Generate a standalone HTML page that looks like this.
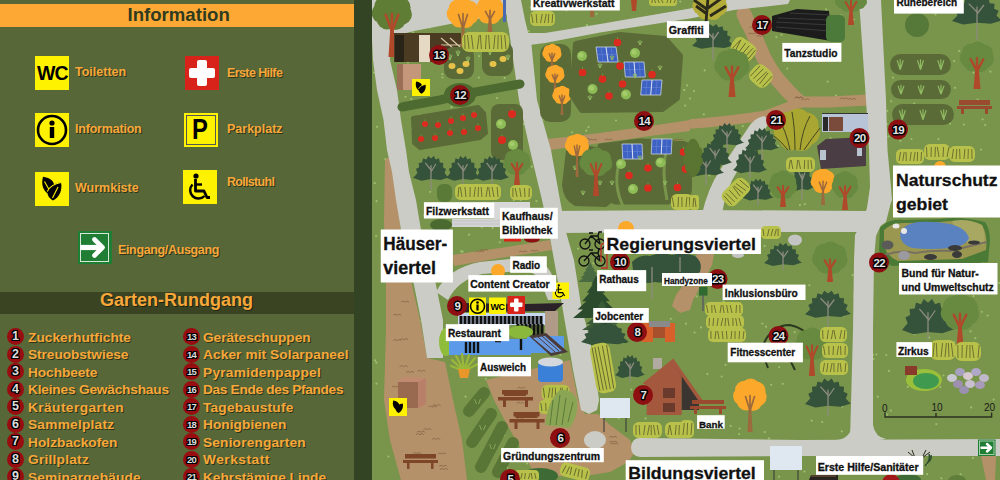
<!DOCTYPE html>
<html><head><meta charset="utf-8">
<style>
*{margin:0;padding:0;box-sizing:border-box}
html,body{width:1000px;height:480px;overflow:hidden;background:#576737;font-family:"Liberation Sans",sans-serif}
#panel{position:absolute;left:0;top:0;width:354px;height:480px;background:#576737}
#strip{position:absolute;left:354px;top:0;width:18px;height:480px;background:#334425}
.t{position:absolute;white-space:nowrap;font-weight:bold;color:#f8a83a;text-shadow:1px 1px 0 #2d3518}
.ic{position:absolute;width:34px;height:34px;background:#fff200}
.m{position:absolute;width:17px;height:17px;border-radius:50%;background:#980e10;color:#dcdcdc;font-weight:bold;font-size:12.5px;line-height:17px;text-align:center;text-shadow:-1.5px 0 0 #000,1px 0 0 #000,0 -1px 0 #000,0 1px 0 #000,-1.5px 1px 0 #000,-1.5px -1px 0 #000,1px 1px 0 #000,1px -1px 0 #000}
#map{position:absolute;left:372px;top:0;width:628px;height:480px;overflow:hidden;background:#6b8c44}
.lb{position:absolute;background:#fff;color:#111;font-weight:bold;white-space:nowrap;font-size:11px;line-height:14px;padding:0 3px}
.mk{position:absolute;width:22px;height:22px;border-radius:50%;background:#8b0f0f;color:#fff;font-weight:bold;font-size:11px;line-height:22px;text-align:center;text-shadow:1px 1px 0 #000}
</style></head><body>
<div id="panel">
  <div style="position:absolute;left:0;top:3.5px;width:354px;height:23.5px;background:#fda834"></div>
  <div class="t" style="left:127.5px;top:4px;font-size:18.6px;color:#2e3b1f;text-shadow:none">Information</div>

  <div class="ic" style="left:35px;top:56px"><div style="position:absolute;left:2px;top:6px;font-size:19.5px;font-weight:bold;color:#000;letter-spacing:-1px">WC</div></div>
  <div class="t" style="left:75px;top:65px;font-size:12.5px">Toiletten</div>

  <div class="ic" style="left:185px;top:56px;background:#d8231a">
    <div style="position:absolute;left:12px;top:4px;width:10px;height:26px;background:#fff;border-radius:2px"></div>
    <div style="position:absolute;left:4px;top:12px;width:26px;height:10px;background:#fff;border-radius:2px"></div>
  </div>
  <div class="t" style="left:227px;top:66px;font-size:12.5px;letter-spacing:-0.6px">Erste Hilfe</div>

  <div class="ic" style="left:35px;top:113px">
    <svg width="34" height="34" viewBox="0 0 34 34"><circle cx="17" cy="17" r="14" fill="none" stroke="#000" stroke-width="2.6"/><circle cx="17" cy="10" r="2.6"/><rect x="14.8" y="14" width="4.4" height="11" /></svg>
  </div>
  <div class="t" style="left:75px;top:122px;font-size:12.5px;letter-spacing:-0.2px">Information</div>

  <div class="ic" style="left:184px;top:113px;">
    <div style="position:absolute;left:2px;top:2px;width:30px;height:30px;border:1px solid #555"></div>
    <div style="position:absolute;left:8px;top:-0.5px;font-size:29px;font-weight:bold;color:#000;transform:scaleX(0.82);transform-origin:left top">P</div>
  </div>
  <div class="t" style="left:227px;top:121.5px;font-size:12.5px">Parkplatz</div>

  <div class="ic" style="left:35px;top:172px">
    <svg width="34" height="34" viewBox="0 0 34 34"><path d="M8 4.8 C 14 5.5, 19 9, 19 13 C 18.5 17, 16 20.5, 13 21.6 C 8.5 19, 5.8 13, 8 4.8 Z"/><path d="M26 10.5 C 27.5 17, 25 25, 18 28.5 C 13.5 26, 11.5 22, 13 18 C 15 13.5, 20 11, 26 10.5 Z"/><path d="M12.3 19.5 C 15 14, 20 11.5, 26 10.5 M9.5 9.5 L14 17.5 M23 15 L17.5 26" stroke="#fff200" stroke-width="1.1" fill="none"/></svg>
  </div>
  <div class="t" style="left:75px;top:181px;font-size:12.5px">Wurmkiste</div>

  <div class="ic" style="left:183px;top:169.5px">
    <svg width="34" height="34" viewBox="0 0 34 34"><circle cx="13" cy="6" r="2.6"/><path d="M12.5 9 L12.5 21 L21 21 L24 27.5 L27 27.5" stroke="#000" stroke-width="2.8" fill="none" stroke-linejoin="round"/><path d="M12 14.5 L19 14.5" stroke="#000" stroke-width="2.4"/><path d="M9.5 14.5 A8.3 8.3 0 1 0 21.5 26" stroke="#000" stroke-width="2.5" fill="none"/></svg>
  </div>
  <div class="t" style="left:227px;top:175px;font-size:12.5px;letter-spacing:-0.7px">Rollstuhl</div>

  <div style="position:absolute;left:78px;top:231.2px;width:33.5px;height:33.3px;background:#1f7d34">
    <div style="position:absolute;left:2px;top:2px;width:29px;height:28.5px;border:1px solid #d8e8d8"></div>
    <svg style="position:absolute;left:0;top:0" width="33" height="33" viewBox="0 0 33 33"><path d="M2.2 16.5 H24" stroke="#fff" stroke-width="5.2" fill="none"/><path d="M16.5 8.5 L24.5 16.5 L16.5 24.5" stroke="#fff" stroke-width="4.6" fill="none" stroke-linecap="round" stroke-linejoin="round"/></svg>
  </div>
  <div class="t" style="left:118px;top:242.5px;font-size:12.5px;letter-spacing:-0.35px">Eingang/Ausgang</div>

  <div style="position:absolute;left:0;top:291.5px;width:354px;height:22.5px;background:#3b4422"></div>
  <div class="t" style="left:100px;top:290px;font-size:18px;text-shadow:1px 1px 0 #1e2410">Garten-Rundgang</div>

  <div id="list">
<div class="m" style="left:7px;top:328.0px">1</div><div class="t" style="left:28px;top:329.7px;font-size:13.7px;letter-spacing:0.021px">Zuckerhutfichte</div>
<div class="m" style="left:183px;top:328.0px;font-size:9.5px;letter-spacing:-0.8px">13</div><div class="t" style="left:203px;top:329.7px;font-size:13.7px;letter-spacing:-0.031px">Geräteschuppen</div>
<div class="m" style="left:7px;top:345.5px">2</div><div class="t" style="left:28px;top:347.2px;font-size:13.7px;letter-spacing:-0.062px">Streuobstwiese</div>
<div class="m" style="left:183px;top:345.5px;font-size:9.5px;letter-spacing:-0.8px">14</div><div class="t" style="left:203px;top:347.2px;font-size:13.7px;letter-spacing:0.090px">Acker mit Solarpaneel</div>
<div class="m" style="left:7px;top:363.0px">3</div><div class="t" style="left:28px;top:364.7px;font-size:13.7px;letter-spacing:-0.062px">Hochbeete</div>
<div class="m" style="left:183px;top:363.0px;font-size:9.5px;letter-spacing:-0.8px">15</div><div class="t" style="left:203px;top:364.7px;font-size:13.7px;letter-spacing:0.264px">Pyramidenpappel</div>
<div class="m" style="left:7px;top:380.5px">4</div><div class="t" style="left:28px;top:382.2px;font-size:13.7px;letter-spacing:-0.194px">Kleines Gewächshaus</div>
<div class="m" style="left:183px;top:380.5px;font-size:9.5px;letter-spacing:-0.8px">16</div><div class="t" style="left:203px;top:382.2px;font-size:13.7px;letter-spacing:-0.332px">Das Ende des Pfandes</div>
<div class="m" style="left:7px;top:398.0px">5</div><div class="t" style="left:28px;top:399.7px;font-size:13.7px;letter-spacing:0.425px">Kräutergarten</div>
<div class="m" style="left:183px;top:398.0px;font-size:9.5px;letter-spacing:-0.8px">17</div><div class="t" style="left:203px;top:399.7px;font-size:13.7px;letter-spacing:0.209px">Tagebaustufe</div>
<div class="m" style="left:7px;top:415.5px">6</div><div class="t" style="left:28px;top:417.2px;font-size:13.7px;letter-spacing:0.240px">Sammelplatz</div>
<div class="m" style="left:183px;top:415.5px;font-size:9.5px;letter-spacing:-0.8px">18</div><div class="t" style="left:203px;top:417.2px;font-size:13.7px;letter-spacing:0.050px">Honigbienen</div>
<div class="m" style="left:7px;top:433.0px">7</div><div class="t" style="left:28px;top:434.7px;font-size:13.7px;letter-spacing:0.027px">Holzbackofen</div>
<div class="m" style="left:183px;top:433.0px;font-size:9.5px;letter-spacing:-0.8px">19</div><div class="t" style="left:203px;top:434.7px;font-size:13.7px;letter-spacing:0.177px">Seniorengarten</div>
<div class="m" style="left:7px;top:450.5px">8</div><div class="t" style="left:28px;top:452.2px;font-size:13.7px;letter-spacing:0.244px">Grillplatz</div>
<div class="m" style="left:183px;top:450.5px;font-size:9.5px;letter-spacing:-0.8px">20</div><div class="t" style="left:203px;top:452.2px;font-size:13.7px;letter-spacing:0.537px">Werkstatt</div>
<div class="m" style="left:7px;top:468.0px">9</div><div class="t" style="left:28px;top:469.7px;font-size:13.7px;letter-spacing:0.185px">Seminargebäude</div>
<div class="m" style="left:183px;top:468.0px;font-size:9.5px;letter-spacing:-0.8px">21</div><div class="t" style="left:203px;top:469.7px;font-size:13.7px;letter-spacing:-0.012px">Kehrstämige Linde</div>
</div>
</div>
<div id="strip"></div>
<div id="map">
<svg style="position:absolute;left:0;top:0" width="628" height="480" viewBox="372 0 628 480">
<rect x="372" y="0" width="628" height="480" fill="#79944b"/>
<path d="M576.7 72.4h0.01 M781.5 34.8h0.01 M709.5 175.5h0.01 M410.3 243.6h0.01 M397.5 208.1h0.01 M417.7 43.5h0.01 M639.7 396.9h0.01 M451.5 107.2h0.01 M766.8 454.9h0.01 M735.3 190.4h0.01 M985.1 22.4h0.01 M911.4 139.0h0.01 M464.3 56.5h0.01 M567.1 391.7h0.01 M487.1 279.2h0.01 M774.0 178.8h0.01 M716.9 30.1h0.01 M411.3 98.9h0.01 M799.9 205.2h0.01 M570.7 281.1h0.01 M657.7 143.9h0.01 M871.3 335.5h0.01 M526.8 275.7h0.01 M702.8 420.1h0.01 M830.6 138.2h0.01 M987.6 56.7h0.01 M635.7 363.4h0.01 M469.1 234.7h0.01 M398.5 320.7h0.01 M852.6 275.1h0.01 M922.0 150.6h0.01 M809.3 285.3h0.01 M737.0 219.0h0.01 M899.8 453.4h0.01 M670.8 318.8h0.01 M412.0 336.7h0.01 M779.1 476.7h0.01 M888.5 136.6h0.01 M615.5 321.0h0.01 M388.1 221.6h0.01 M479.2 56.2h0.01 M410.9 368.8h0.01 M455.0 118.9h0.01 M618.7 418.3h0.01 M424.4 215.6h0.01 M717.9 424.0h0.01 M886.9 414.7h0.01 M548.3 199.3h0.01 M598.6 424.4h0.01 M973.5 72.4h0.01 M484.3 111.3h0.01 M520.1 232.8h0.01 M742.8 126.1h0.01 M376.6 201.1h0.01 M605.2 271.8h0.01 M970.6 331.4h0.01 M696.7 296.4h0.01 M797.3 25.9h0.01 M937.1 374.4h0.01 M921.4 383.0h0.01 M619.6 191.5h0.01 M438.8 304.5h0.01 M413.0 32.3h0.01 M504.7 77.9h0.01 M586.9 25.2h0.01 M374.1 72.6h0.01 M437.5 174.5h0.01 M390.0 419.7h0.01 M758.4 71.3h0.01 M531.9 166.7h0.01 M602.0 59.0h0.01 M905.4 476.7h0.01 M665.7 232.2h0.01 M427.8 49.1h0.01 M588.5 127.1h0.01 M892.9 77.5h0.01 M388.5 456.5h0.01 M704.7 70.4h0.01 M714.0 13.0h0.01 M704.6 469.7h0.01 M914.4 334.2h0.01 M537.5 176.0h0.01 M478.6 370.5h0.01 M707.4 373.9h0.01 M580.4 107.1h0.01 M882.0 472.8h0.01 M907.7 386.9h0.01 M886.3 355.1h0.01 M515.9 248.5h0.01 M596.6 13.9h0.01 M391.5 134.1h0.01 M536.2 332.4h0.01 M972.8 214.7h0.01 M960.6 474.3h0.01 M971.8 175.0h0.01 M512.0 108.9h0.01 M497.1 98.1h0.01 M764.7 432.1h0.01 M900.1 230.1h0.01 M782.8 383.8h0.01 M427.1 317.1h0.01 M943.5 375.5h0.01 M843.6 229.5h0.01 M485.8 378.8h0.01 M582.2 384.4h0.01 M982.3 190.0h0.01 M625.3 454.5h0.01 M827.7 81.6h0.01 M453.5 72.6h0.01 M940.4 387.1h0.01 M465.5 396.7h0.01 M987.7 315.5h0.01 M593.4 263.4h0.01 M456.0 6.8h0.01 M981.8 311.8h0.01 M703.6 448.1h0.01 M645.6 418.4h0.01 M891.2 101.3h0.01 M531.6 140.6h0.01 M524.6 281.5h0.01 M536.4 201.1h0.01 M456.1 436.8h0.01 M595.5 219.9h0.01 M739.2 434.1h0.01 M637.3 440.5h0.01 M688.0 255.3h0.01 M701.7 9.0h0.01 M649.5 87.9h0.01 M376.5 383.6h0.01 M481.9 227.3h0.01 M828.0 267.1h0.01 M578.1 248.8h0.01 M721.7 376.5h0.01 M440.4 268.9h0.01 M529.6 132.9h0.01 M857.4 243.7h0.01 M725.6 364.8h0.01 M945.2 212.8h0.01 M757.4 242.7h0.01 M694.6 332.5h0.01 M657.2 256.0h0.01 M673.3 451.9h0.01 M811.7 420.7h0.01 M963.8 124.6h0.01 M724.3 452.8h0.01 M899.8 65.8h0.01 M450.1 212.2h0.01 M419.4 115.5h0.01 M419.8 321.3h0.01 M864.7 430.6h0.01 M470.7 343.7h0.01 M787.3 68.6h0.01 M926.7 464.4h0.01 M511.5 457.2h0.01 M623.3 233.9h0.01 M993.7 399.6h0.01 M475.1 207.1h0.01 M696.8 162.8h0.01 M496.5 152.9h0.01 M826.1 9.4h0.01 M720.8 211.4h0.01 M385.3 159.1h0.01 M764.6 245.9h0.01 M414.2 472.8h0.01 M867.5 466.4h0.01 M439.6 127.5h0.01 M398.8 373.9h0.01 M543.3 62.2h0.01 M638.3 437.5h0.01 M886.7 124.1h0.01 M467.5 441.2h0.01 M731.2 336.2h0.01 M430.0 27.6h0.01 M804.8 204.2h0.01 M419.3 450.4h0.01 M771.2 384.8h0.01 M426.4 411.0h0.01 M415.7 414.1h0.01 M658.1 162.8h0.01 M720.2 444.8h0.01 M541.7 62.0h0.01 M703.8 114.4h0.01 M442.5 77.5h0.01 M405.5 96.8h0.01 M569.3 146.4h0.01 M849.4 139.2h0.01 M687.1 85.4h0.01 M591.2 8.7h0.01 M530.8 7.4h0.01 M832.9 264.5h0.01 M492.6 227.9h0.01 M959.1 51.0h0.01 M886.6 207.4h0.01 M683.9 400.6h0.01 M620.1 243.2h0.01 M804.5 471.6h0.01 M588.5 399.5h0.01 M816.4 305.3h0.01 M627.3 166.8h0.01 M408.0 62.3h0.01 M418.3 355.6h0.01 M534.0 78.4h0.01 M426.9 403.8h0.01 M919.0 321.9h0.01 M550.5 116.3h0.01 M557.5 220.5h0.01 M472.6 214.0h0.01 M538.8 461.7h0.01 M982.9 262.6h0.01 M527.0 463.5h0.01 M567.8 171.2h0.01 M374.7 183.2h0.01 M671.1 241.3h0.01 M499.8 242.3h0.01 M377.1 126.8h0.01 M430.2 191.8h0.01 M400.1 10.8h0.01 M564.5 111.7h0.01 M740.6 254.0h0.01 M843.8 315.6h0.01 M822.2 422.0h0.01 M617.8 156.5h0.01 M990.4 71.7h0.01 M827.3 308.7h0.01 M401.4 400.9h0.01 M932.4 301.1h0.01 M833.4 389.9h0.01 M461.2 251.4h0.01 M689.7 400.8h0.01 M877.7 396.7h0.01 M739.6 428.6h0.01 M801.5 332.8h0.01 M517.9 15.0h0.01 M457.3 173.1h0.01 M439.7 401.2h0.01 M723.6 301.3h0.01 M766.0 326.7h0.01 M680.3 1.6h0.01 M873.4 359.2h0.01 M688.9 256.9h0.01 M786.7 31.7h0.01 M835.2 121.1h0.01 M420.6 127.5h0.01 M830.6 98.5h0.01 M837.1 468.4h0.01 M683.2 183.6h0.01 M673.9 328.2h0.01 M854.1 296.1h0.01 M776.4 37.2h0.01 M466.3 121.9h0.01 M839.3 146.1h0.01 M729.4 6.0h0.01 M412.0 129.0h0.01 M794.7 332.2h0.01 M797.0 139.6h0.01 M697.4 223.0h0.01 M665.9 56.9h0.01 M933.4 95.6h0.01 M986.3 449.4h0.01 M385.0 220.3h0.01 M887.3 464.7h0.01 M655.4 129.0h0.01 M505.4 453.9h0.01 M505.9 279.1h0.01 M462.7 251.6h0.01 M970.4 63.7h0.01 M887.5 244.2h0.01 M929.2 337.6h0.01 M518.8 430.9h0.01 M678.3 11.9h0.01 M376.2 236.0h0.01 M656.2 144.9h0.01 M462.1 165.1h0.01 M571.9 403.3h0.01 M375.1 360.4h0.01 M899.3 57.6h0.01 M953.9 342.3h0.01 M938.4 139.1h0.01 M607.0 188.6h0.01 M999.2 282.8h0.01 M599.8 205.5h0.01 M546.2 23.2h0.01 M437.7 400.6h0.01 M552.8 449.1h0.01 M530.1 127.5h0.01 M693.9 91.1h0.01 M607.7 459.0h0.01 M927.6 389.7h0.01 M768.9 438.4h0.01 M962.9 263.6h0.01 M824.5 23.7h0.01 M832.5 216.4h0.01 M845.2 309.4h0.01 M553.2 23.5h0.01 M954.2 61.1h0.01 M669.6 165.0h0.01 M560.4 354.7h0.01 M985.2 124.9h0.01 M784.7 144.4h0.01 M722.9 189.3h0.01 M478.8 77.6h0.01 M504.1 434.9h0.01 M685.2 105.6h0.01 M941.3 478.3h0.01 M655.7 67.0h0.01 M494.4 43.5h0.01 M588.1 43.7h0.01 M523.7 124.0h0.01 M730.6 425.9h0.01 M843.3 198.1h0.01 M633.1 251.6h0.01 M609.9 162.3h0.01 M412.8 133.2h0.01 M979.8 60.4h0.01 M689.1 302.2h0.01 M914.2 103.7h0.01 M543.7 119.3h0.01 M624.2 214.0h0.01 M971.2 407.4h0.01 M920.4 10.5h0.01 M394.2 340.6h0.01 M934.7 227.2h0.01 M741.6 0.1h0.01 M619.1 444.9h0.01 M890.8 410.6h0.01 M982.6 119.3h0.01 M442.3 74.1h0.01 M701.0 327.4h0.01 M963.4 346.4h0.01 M779.2 367.1h0.01 M660.3 264.7h0.01 M398.8 375.5h0.01 M519.6 441.6h0.01 M778.1 145.8h0.01 M454.1 120.9h0.01 M772.3 335.3h0.01 M444.2 33.8h0.01 M702.3 279.8h0.01 M616.9 107.3h0.01 M750.3 5.0h0.01 M562.8 221.1h0.01 M974.3 309.4h0.01 M927.2 228.1h0.01 M521.0 118.6h0.01 M975.3 338.2h0.01 M566.4 10.5h0.01 M685.9 323.7h0.01 M636.9 123.5h0.01 M791.8 444.1h0.01 M516.0 16.4h0.01 M585.6 201.9h0.01 M801.3 95.1h0.01 M873.0 354.8h0.01 M690.1 98.5h0.01 M981.1 149.6h0.01 M887.3 110.8h0.01 M512.6 365.0h0.01 M558.6 456.9h0.01 M684.3 89.9h0.01 M513.8 200.2h0.01 M790.5 455.4h0.01 M465.6 188.9h0.01 M507.3 467.6h0.01 M462.8 24.9h0.01 M411.6 188.8h0.01 M936.3 424.1h0.01 M832.7 478.8h0.01 M957.2 158.0h0.01 M490.1 449.2h0.01 M841.2 15.3h0.01 M789.9 181.7h0.01 M608.1 159.2h0.01 M480.0 1.4h0.01 M549.2 168.7h0.01 M972.2 59.4h0.01 M977.6 99.6h0.01 M597.2 394.4h0.01 M888.6 207.6h0.01 M404.8 227.3h0.01 M607.3 441.4h0.01 M494.8 174.8h0.01 M935.5 14.5h0.01 M631.2 389.7h0.01 M853.9 19.5h0.01 M395.8 30.0h0.01 M950.0 123.4h0.01 M841.8 431.3h0.01 M586.3 130.7h0.01 M973.5 296.1h0.01 M538.1 344.0h0.01 M572.1 132.3h0.01 M376.4 362.7h0.01 M947.7 304.3h0.01 M964.5 11.6h0.01 M520.4 228.1h0.01 M972.9 457.9h0.01 M616.0 120.5h0.01 M643.1 236.9h0.01 M955.0 87.8h0.01 M876.4 354.5h0.01 M889.0 370.9h0.01 M754.1 157.3h0.01 M574.0 173.7h0.01 M863.7 37.9h0.01 M497.5 361.4h0.01 M528.8 31.1h0.01 M395.2 265.2h0.01 M577.9 470.5h0.01 M927.1 474.2h0.01 M539.8 40.4h0.01 M434.4 239.3h0.01 M818.3 214.5h0.01 M520.6 200.1h0.01 M762.3 323.6h0.01 M842.2 406.6h0.01 M789.9 58.2h0.01 M900.4 141.0h0.01 M728.9 179.0h0.01 M836.0 95.6h0.01 M528.9 117.8h0.01" stroke="#9cbf6c" stroke-width="2.2" stroke-linecap="round"/>
<path d="M385 160 L389 157 L392 165 L397 200 L402 240 L412 285 L421 325 L427 358 L445 362 L453 400 L462 440 L467 480 L401 480 L390 440 L384 400 L386 330 L386 285 L384 220 Z" fill="#b5916a" />
<path d="M486 380 L520 372 L570 360 L578 400 L585 414 L598 414 L610 425 L630 440 L635 452 L628 462 L610 472 L585 476 L555 476 L532 469 L520 447 L505 421 L494 400 Z" fill="#b5916a" />
<path d="M548 139 L600 133 L650 126 L690 120 L690 131 L650 136 L600 143 L550 150 Z" fill="#b5916a" />
<path d="M744 14 Q747 22 751 28 L763 56 Q770 70 778 80 Q788 92 798 101" stroke="#b5916a" stroke-width="15" stroke-linecap="round" fill="none"/>
<path d="M796 102 L830 102 L868 100" stroke="#b5916a" stroke-width="11" fill="none"/>
<path d="M796 104 Q780 110 765 115.5 Q730 121 690 124" stroke="#b5916a" stroke-width="9.5" fill="none"/>
<path d="M697 254 L714 254 L712 265 L703 282 L693 300 L690 310 L680 313 L672 306 L676 295 L684 284 L690 270 Z" fill="#b5916a" />
<path d="M452 255 L500 248 L550 240 L552 250 L500 258 L454 266 Z" fill="#b5916a" />
<path d="M981 456 L996 456 L995 480 L986 480 Z" fill="#b5916a" />
<path d="M372 0 L508 0 L510 14 L470 20 L440 26 L414 31 L398 35 L391 42 L390 60 L397 90 L401 120 L406 150 L409 172 L416 200 L421 230 L430 260 L436 285 L443 320 L443 358 L427 358 L421 320 L414 285 L408 260 L401 230 L396 200 L392 172 L387 150 L383.5 120 L377 90 L373 60 L372 40 Z" fill="#cbccc5" />
<path d="M506 0 L521 0 L525 20 L528 32 L531 40 L537 100 L551 150 L560 200 L566 232 L574 260 L581 305 L590 340 L595 370 L599 400 L597 410 L589 414 L581 410 L579 400 L573 370 L568 340 L562 305 L554 260 L549 232 L542 200 L530 150 L519 100 L511 45 L509 30 L507 20 Z" fill="#cbccc5" />
<path d="M520 33 L545 33 L600 24 L690 8.5 L700 6 L702 0 L790 0 L788 4 L734 10 L690 18.5 L600 32.5 L545 43 L522 46 Z" fill="#cbccc5" />
<path d="M545 211 L700 210 L866 211 L870 200 L892 198 L886 222 L872 232 L700 232 L558 233 Z" fill="#cbccc5" />
<path d="M859 0 L881 0 L886 100 L887.5 150 L891 187 L892 200 L884 218 L876 236 L874 260 L873 330 L873 428 L874 440 L850 440 L853 330 L854 260 L855 235 L866 215 L870 187 L869 150 L866 100 Z" fill="#cbccc5" />
<path d="M853 420 Q852 439 836 440 L853 441 Z M873 425 Q875 437 886 439 L872 441 Z" fill="#cbccc5"/>
<path d="M640 438 L800 440 L1000 439 L1000 456 L800 456 L640 457 Q631 456 631 447 Q632 438 640 438 Z" fill="#cbccc5"/>
<path d="M436 292 Q448 268 480 262 L520 258 Q545 258 552 275 L560 300 L548 300 L540 280 Q534 270 520 271 L482 274 Q458 280 448 300 Z" fill="#cbccc5"/>
<path d="M702 214 Q708 188 720 170 Q732 152 748 128 Q754 118 764 116 L770 121 Q762 134 754 150 Q744 164 738 170 Q726 188 722 214 Z" fill="#cbccc5"/>
<ellipse cx="595" cy="440" rx="11" ry="9" fill="#cbccc5"/>
<path d="M389.8 246.0 q2 -2 4 0 q2 -2 4 0 M391.7 236.6 q2 -2 4 0 q2 -2 4 0 M390.0 248.7 q2 -2 4 0 q2 -2 4 0 M388.7 241.2 q2 -2 4 0 q2 -2 4 0 M400.2 339.6 q2 -2 4 0 q2 -2 4 0 M393.2 315.2 q2 -2 4 0 q2 -2 4 0 M393.2 340.5 q2 -2 4 0 q2 -2 4 0 M401.0 302.1 q2 -2 4 0 q2 -2 4 0 M439.1 466.3 q2 -2 4 0 q2 -2 4 0 M423.4 429.6 q2 -2 4 0 q2 -2 4 0 M399.6 366.6 q2 -2 4 0 q2 -2 4 0 M417.4 371.3 q2 -2 4 0 q2 -2 4 0 M401.1 390.4 q2 -2 4 0 q2 -2 4 0 M393.4 413.7 q2 -2 4 0 q2 -2 4 0 M413.1 453.5 q2 -2 4 0 q2 -2 4 0 M416.9 432.2 q2 -2 4 0 q2 -2 4 0 M416.0 434.6 q2 -2 4 0 q2 -2 4 0 M414.0 394.2 q2 -2 4 0 q2 -2 4 0 M439.9 469.5 q2 -2 4 0 q2 -2 4 0 M432.3 439.3 q2 -2 4 0 q2 -2 4 0 M407.1 389.1 q2 -2 4 0 q2 -2 4 0 M405.9 372.4 q2 -2 4 0 q2 -2 4 0 M428.8 407.0 q2 -2 4 0 q2 -2 4 0 M432.6 405.6 q2 -2 4 0 q2 -2 4 0 M438.0 454.0 q2 -2 4 0 q2 -2 4 0 M392.0 387.0 q2 -2 4 0 q2 -2 4 0 M560.2 410.8 q2 -2 4 0 q2 -2 4 0 M564.0 406.9 q2 -2 4 0 q2 -2 4 0 M515.9 419.6 q2 -2 4 0 q2 -2 4 0 M553.3 399.8 q2 -2 4 0 q2 -2 4 0 M516.6 403.3 q2 -2 4 0 q2 -2 4 0 M563.1 426.7 q2 -2 4 0 q2 -2 4 0 M518.3 398.6 q2 -2 4 0 q2 -2 4 0 M517.4 388.3 q2 -2 4 0 q2 -2 4 0 M554.2 394.8 q2 -2 4 0 q2 -2 4 0 M541.6 409.6 q2 -2 4 0 q2 -2 4 0 M610.2 444.1 q2 -2 4 0 q2 -2 4 0 M609.2 442.2 q2 -2 4 0 q2 -2 4 0 M609.0 437.3 q2 -2 4 0 q2 -2 4 0 M794.9 97.8 q2 -2 4 0 q2 -2 4 0 M848.0 99.4 q2 -2 4 0 q2 -2 4 0 M801.3 99.7 q2 -2 4 0 q2 -2 4 0 M794.7 98.2 q2 -2 4 0 q2 -2 4 0 M839.8 98.9 q2 -2 4 0 q2 -2 4 0 M746.5 59.6 q2 -2 4 0 q2 -2 4 0 M748.2 34.0 q2 -2 4 0 q2 -2 4 0 M756.6 36.5 q2 -2 4 0 q2 -2 4 0 M749.4 27.6 q2 -2 4 0 q2 -2 4 0 M570.8 140.2 q2 -2 4 0 q2 -2 4 0 M589.2 140.2 q2 -2 4 0 q2 -2 4 0 M604.6 139.9 q2 -2 4 0 q2 -2 4 0 M675.1 140.0 q2 -2 4 0 q2 -2 4 0 M628.9 140.7 q2 -2 4 0 q2 -2 4 0 M581.9 139.3 q2 -2 4 0 q2 -2 4 0 M669.0 140.6 q2 -2 4 0 q2 -2 4 0 M480.0 250.4 q2 -2 4 0 q2 -2 4 0 M519.2 251.9 q2 -2 4 0 q2 -2 4 0 M475.7 251.9 q2 -2 4 0 q2 -2 4 0 M530.6 251.2 q2 -2 4 0 q2 -2 4 0" stroke="#8c6a48" stroke-width="0.9" fill="none"/>
<g fill="#607d35" >
<ellipse cx="392" cy="12" rx="17.6" ry="14.4"/>
<circle cx="401.5" cy="14.4" r="10.4"/>
<circle cx="395.6" cy="19.5" r="10.4"/>
<circle cx="387.0" cy="19.0" r="10.4"/>
<circle cx="382.2" cy="13.2" r="10.4"/>
<circle cx="384.7" cy="6.5" r="10.4"/>
<circle cx="392.7" cy="3.9" r="10.4"/>
<circle cx="400.2" cy="7.4" r="10.4"/>
</g>
<path d="M388.5 57 L390.25 29.505 L393.75 29.505 L395.5 57 Z" fill="#b0482a"/>
<path d="M392 31.62 L385.7 14.7 M392 31.62 L398.3 14.7 M392 33.735 L392 13.7" stroke="#b0482a" stroke-width="2.45" stroke-linecap="round"/>
<rect x="394" y="33" width="67" height="29" fill="#4b3b22"/>
<rect x="395" y="35" width="9" height="27" fill="#2a2418"/>
<rect x="419" y="35" width="11" height="27" fill="#e6d9c4"/>
<path d="M441 38 L467 60 M450 38 L470 56 M441 45 L466 45 M443 51 L468 51 M446 57 L470 57" stroke="#d9c8a5" stroke-width="1.2"/>
<g fill="#fca82b" >
<ellipse cx="463" cy="13" rx="13.6" ry="12"/>
<circle cx="470.3" cy="15.0" r="8.7"/>
<circle cx="465.8" cy="19.3" r="8.7"/>
<circle cx="459.2" cy="18.8" r="8.7"/>
<circle cx="455.4" cy="14.0" r="8.7"/>
<circle cx="457.4" cy="8.4" r="8.7"/>
<circle cx="463.6" cy="6.3" r="8.7"/>
<circle cx="469.3" cy="9.2" r="8.7"/>
</g>
<path d="M460.5 50 L461.75 26.925 L464.25 26.925 L465.5 50 Z" fill="#9c6a3c"/>
<path d="M463 28.7 L458.5 14.5 M463 28.7 L467.5 14.5 M463 30.475 L463 13.5" stroke="#9c6a3c" stroke-width="1.75" stroke-linecap="round"/>
<g fill="#fca82b" >
<ellipse cx="490" cy="10" rx="11.2" ry="11.2"/>
<circle cx="496.0" cy="11.9" r="8.1"/>
<circle cx="492.3" cy="15.9" r="8.1"/>
<circle cx="486.8" cy="15.5" r="8.1"/>
<circle cx="483.8" cy="10.9" r="8.1"/>
<circle cx="485.4" cy="5.7" r="8.1"/>
<circle cx="490.5" cy="3.7" r="8.1"/>
<circle cx="495.2" cy="6.5" r="8.1"/>
</g>
<path d="M487.5 32 L488.75 18.61 L491.25 18.61 L492.5 32 Z" fill="#9c6a3c"/>
<path d="M490 19.64 L485.5 11.4 M490 19.64 L494.5 11.4 M490 20.67 L490 10.4" stroke="#9c6a3c" stroke-width="1.75" stroke-linecap="round"/>
<rect x="444" y="47" width="30" height="32" rx="9" fill="#5a6b37"/>
<rect x="482" y="42" width="31" height="34" rx="9" fill="#5a6b37"/>
<path d="M450 60 l-2 -5 M450 60 l0 -6 M450 60 l2 -5" stroke="#8fb862" stroke-width="1" fill="none"/>
<path d="M458 56 l-2 -5 M458 56 l0 -6 M458 56 l2 -5" stroke="#8fb862" stroke-width="1" fill="none"/>
<path d="M468 62 l-2 -5 M468 62 l0 -6 M468 62 l2 -5" stroke="#8fb862" stroke-width="1" fill="none"/>
<path d="M490 55 l-2 -5 M490 55 l0 -6 M490 55 l2 -5" stroke="#8fb862" stroke-width="1" fill="none"/>
<path d="M500 52 l-2 -5 M500 52 l0 -6 M500 52 l2 -5" stroke="#8fb862" stroke-width="1" fill="none"/>
<path d="M508 60 l-2 -5 M508 60 l0 -6 M508 60 l2 -5" stroke="#8fb862" stroke-width="1" fill="none"/>
<g transform="rotate(0 485.5 42)">
<rect x="462" y="32" width="47" height="20" rx="7" fill="#b8c24a"/>
<path d="M465.0 49.0 L464.7 35.0 M469.1 49.0 L467.5 35.0 M473.2 49.0 L471.4 35.0 M477.3 49.0 L479.2 35.0 M481.4 49.0 L480.4 35.0 M485.5 49.0 L486.3 35.0 M489.6 49.0 L488.6 35.0 M493.7 49.0 L495.0 35.0 M497.8 49.0 L498.2 35.0 M501.9 49.0 L501.1 35.0 M506.0 49.0 L504.7 35.0" stroke="#5a5a28" stroke-width="0.8" fill="none"/>
</g>
<ellipse cx="452" cy="66" rx="3.5" ry="2.975" fill="#e7c24b"/>
<ellipse cx="460" cy="71" rx="3.5" ry="2.975" fill="#e7c24b"/>
<ellipse cx="466" cy="64" rx="3.5" ry="2.975" fill="#e7c24b"/>
<ellipse cx="493" cy="64" rx="3.5" ry="2.975" fill="#e7c24b"/>
<ellipse cx="503" cy="59" rx="3.5" ry="2.975" fill="#e7c24b"/>
<rect x="397" y="64" width="24" height="26" fill="#c4967a"/>
<rect x="397" y="64" width="6" height="26" fill="#9a6f55"/>
<path d="M402 107 L440 100 L470 93 L520 84" stroke="#4d6b30" stroke-width="9" stroke-linecap="round" fill="none"/>
<ellipse cx="460" cy="95" rx="16" ry="12" fill="#4d6b30"/>
<rect x="412" y="79" width="18" height="17" fill="#fff200"/>
<g transform="translate(412 79) scale(0.52)"><path d="M8 4.8 C 14 5.5, 19 9, 19 13 C 18.5 17, 16 20.5, 13 21.6 C 8.5 19, 5.8 13, 8 4.8 Z"/><path d="M26 10.5 C 27.5 17, 25 25, 18 28.5 C 13.5 26, 11.5 22, 13 18 C 15 13.5, 20 11, 26 10.5 Z"/><path d="M12.3 19.5 C 15 14, 20 11.5, 26 10.5" stroke="#fff200" stroke-width="1.6" fill="none"/></g>
<path d="M413 118 L478 107 L484 113 L486 133 L480 138 L420 148 L414 143 Z" fill="#5a6b37" stroke="#5a6b37" stroke-width="4" stroke-linejoin="round"/>
<path d="M425 127 l-2 -4 M425 127 l0 -4.8 M425 127 l2 -4" stroke="#8fb862" stroke-width="1" fill="none"/>
<circle cx="425" cy="124" r="3" fill="#dc2a1e"/>
<path d="M425 121.5 l0 -2" stroke="#6a9a3a" stroke-width="1"/>
<path d="M438 128 l-2 -4 M438 128 l0 -4.8 M438 128 l2 -4" stroke="#8fb862" stroke-width="1" fill="none"/>
<circle cx="438" cy="125" r="3" fill="#dc2a1e"/>
<path d="M438 122.5 l0 -2" stroke="#6a9a3a" stroke-width="1"/>
<path d="M451 124 l-2 -4 M451 124 l0 -4.8 M451 124 l2 -4" stroke="#8fb862" stroke-width="1" fill="none"/>
<circle cx="451" cy="121" r="3" fill="#dc2a1e"/>
<path d="M451 118.5 l0 -2" stroke="#6a9a3a" stroke-width="1"/>
<path d="M463 121 l-2 -4 M463 121 l0 -4.8 M463 121 l2 -4" stroke="#8fb862" stroke-width="1" fill="none"/>
<circle cx="463" cy="118" r="3" fill="#dc2a1e"/>
<path d="M463 115.5 l0 -2" stroke="#6a9a3a" stroke-width="1"/>
<path d="M474 118 l-2 -4 M474 118 l0 -4.8 M474 118 l2 -4" stroke="#8fb862" stroke-width="1" fill="none"/>
<circle cx="474" cy="115" r="3" fill="#dc2a1e"/>
<path d="M474 112.5 l0 -2" stroke="#6a9a3a" stroke-width="1"/>
<path d="M421 142 l-2 -4 M421 142 l0 -4.8 M421 142 l2 -4" stroke="#8fb862" stroke-width="1" fill="none"/>
<circle cx="421" cy="139" r="3" fill="#dc2a1e"/>
<path d="M421 136.5 l0 -2" stroke="#6a9a3a" stroke-width="1"/>
<path d="M435 141 l-2 -4 M435 141 l0 -4.8 M435 141 l2 -4" stroke="#8fb862" stroke-width="1" fill="none"/>
<circle cx="435" cy="138" r="3" fill="#dc2a1e"/>
<path d="M435 135.5 l0 -2" stroke="#6a9a3a" stroke-width="1"/>
<path d="M450 136 l-2 -4 M450 136 l0 -4.8 M450 136 l2 -4" stroke="#8fb862" stroke-width="1" fill="none"/>
<circle cx="450" cy="133" r="3" fill="#dc2a1e"/>
<path d="M450 130.5 l0 -2" stroke="#6a9a3a" stroke-width="1"/>
<path d="M464 135 l-2 -4 M464 135 l0 -4.8 M464 135 l2 -4" stroke="#8fb862" stroke-width="1" fill="none"/>
<circle cx="464" cy="132" r="3" fill="#dc2a1e"/>
<path d="M464 129.5 l0 -2" stroke="#6a9a3a" stroke-width="1"/>
<path d="M478 131 l-2 -4 M478 131 l0 -4.8 M478 131 l2 -4" stroke="#8fb862" stroke-width="1" fill="none"/>
<circle cx="478" cy="128" r="3" fill="#dc2a1e"/>
<path d="M478 125.5 l0 -2" stroke="#6a9a3a" stroke-width="1"/>
<rect x="491" y="104" width="32" height="56" rx="8" fill="#5a6b37"/>
<circle cx="501" cy="124" r="5" fill="#8dbb56"/>
<circle cx="500" cy="123" r="2.5" fill="#a5cc6a"/>
<circle cx="513" cy="145" r="5" fill="#8dbb56"/>
<circle cx="512" cy="144" r="2.5" fill="#a5cc6a"/>
<circle cx="512" cy="114" r="4" fill="#dc2a1e"/>
<path d="M512 110.5 l0 -2" stroke="#6a9a3a" stroke-width="1"/>
<circle cx="502" cy="140" r="4" fill="#dc2a1e"/>
<path d="M502 136.5 l0 -2" stroke="#6a9a3a" stroke-width="1"/>
<path d="M415 176 L417.449 172.954 L415.965 169.023 L419.083 167.228 L418.743 162.887 L422.155 162.561 L423 158.333 L426.294 159.514 L428.222 155.91 L431 158.456 L433.778 155.91 L435.706 159.514 L439 158.333 L439.845 162.561 L443.257 162.887 L442.917 167.228 L446.035 169.023 L444.551 172.954 L447 176 L449 177.2 L440.6 180.08 L431 179.12 L421.4 180.8 L413 177.68 Z" fill="#34533a" />
<path d="M431 165.2 L431 190 M431 170 L425.24 162.8 M431 172 L435.8 164" stroke="#8c8c7c" stroke-width="1.3" fill="none"/>
<path d="M448 176 L450.296 172.954 L448.905 169.023 L451.828 167.228 L451.509 162.887 L454.708 162.561 L455.5 158.333 L458.588 159.514 L460.395 155.91 L463 158.456 L465.605 155.91 L467.412 159.514 L470.5 158.333 L471.292 162.561 L474.491 162.887 L474.172 167.228 L477.095 169.023 L475.704 172.954 L478 176 L480 177.2 L472 180.08 L463 179.12 L454 180.8 L446 177.68 Z" fill="#34533a" />
<path d="M463 165.2 L463 190 M463 170 L457.6 162.8 M463 172 L467.5 164" stroke="#8c8c7c" stroke-width="1.3" fill="none"/>
<path d="M477 176 L479.296 172.954 L477.905 169.023 L480.828 167.228 L480.509 162.887 L483.708 162.561 L484.5 158.333 L487.588 159.514 L489.395 155.91 L492 158.456 L494.605 155.91 L496.412 159.514 L499.5 158.333 L500.292 162.561 L503.491 162.887 L503.172 167.228 L506.095 169.023 L504.704 172.954 L507 176 L509 177.2 L501 180.08 L492 179.12 L483 180.8 L475 177.68 Z" fill="#34533a" />
<path d="M492 165.2 L492 190 M492 170 L486.6 162.8 M492 172 L496.5 164" stroke="#8c8c7c" stroke-width="1.3" fill="none"/>
<g fill="#678a40" >
<ellipse cx="517" cy="162" rx="11.2" ry="10.4"/>
<circle cx="523.0" cy="163.7" r="7.5"/>
<circle cx="519.3" cy="167.4" r="7.5"/>
<circle cx="513.8" cy="167.1" r="7.5"/>
<circle cx="510.8" cy="162.9" r="7.5"/>
<circle cx="512.4" cy="158.0" r="7.5"/>
<circle cx="517.5" cy="156.2" r="7.5"/>
<circle cx="522.2" cy="158.7" r="7.5"/>
</g>
<path d="M514 185 L515.5 171.317 L518.5 171.317 L520 185 Z" fill="#b0482a"/>
<path d="M517 172.37 L511.6 163.95 M517 172.37 L522.4 163.95 M517 173.422 L517 162.95" stroke="#b0482a" stroke-width="2.1" stroke-linecap="round"/>
<g transform="rotate(0 478 192)">
<rect x="455" y="184" width="46" height="16" rx="5.6" fill="#b8c24a"/>
<path d="M458.0 197.0 L458.9 187.0 M462.0 197.0 L460.3 187.0 M466.0 197.0 L464.9 187.0 M470.0 197.0 L470.2 187.0 M474.0 197.0 L475.4 187.0 M478.0 197.0 L478.5 187.0 M482.0 197.0 L481.1 187.0 M486.0 197.0 L487.7 187.0 M490.0 197.0 L488.8 187.0 M494.0 197.0 L492.1 187.0 M498.0 197.0 L497.1 187.0" stroke="#5a5a28" stroke-width="0.8" fill="none"/>
</g>
<g transform="rotate(0 521 192.5)">
<rect x="510" y="185" width="22" height="15" rx="5.25" fill="#b8c24a"/>
<path d="M513.0 197.0 L512.8 188.0 M517.0 197.0 L515.2 188.0 M521.0 197.0 L519.7 188.0 M525.0 197.0 L524.5 188.0 M529.0 197.0 L529.3 188.0" stroke="#5a5a28" stroke-width="0.8" fill="none"/>
</g>
<rect x="437" y="184" width="15" height="18" rx="6" fill="#5a7a38"/>
<rect x="494" y="202" width="36" height="20" fill="#d8d8d8"/>
<rect x="503" y="0" width="3" height="22" fill="#4a6ab0"/>
<g transform="rotate(0 542.5 18.5)">
<rect x="530" y="11" width="25" height="15" rx="5.25" fill="#b8c24a"/>
<path d="M533.0 23.0 L531.5 14.0 M536.8 23.0 L536.2 14.0 M540.6 23.0 L542.2 14.0 M544.4 23.0 L546.3 14.0 M548.2 23.0 L548.8 14.0 M552.0 23.0 L552.8 14.0" stroke="#5a5a28" stroke-width="0.8" fill="none"/>
</g>
<path d="M631 0 L637 0 L636 11 L632 11 Z" fill="#b0482a"/>
<path d="M590 10 L594 10 L594 17 L590 17 Z" fill="#9c6a3c"/>
<g transform="rotate(0 663 1)">
<rect x="649" y="-4" width="28" height="10" rx="3.5" fill="#b8c24a"/>
<path d="M652.0 3.0 L652.3 -1.0 M655.7 3.0 L654.2 -1.0 M659.3 3.0 L657.5 -1.0 M663.0 3.0 L661.1 -1.0 M666.7 3.0 L668.3 -1.0 M670.3 3.0 L671.1 -1.0 M674.0 3.0 L675.9 -1.0" stroke="#5a5a28" stroke-width="0.8" fill="none"/>
</g>
<rect x="540" y="44" width="31" height="78" rx="10" fill="#5a6b37"/>
<g fill="#fca82b" >
<ellipse cx="552" cy="53" rx="8" ry="7.2"/>
<circle cx="556.3" cy="54.2" r="5.2"/>
<circle cx="553.6" cy="56.8" r="5.2"/>
<circle cx="549.7" cy="56.5" r="5.2"/>
<circle cx="547.5" cy="53.6" r="5.2"/>
<circle cx="548.7" cy="50.2" r="5.2"/>
<circle cx="552.3" cy="49.0" r="5.2"/>
<circle cx="555.7" cy="50.7" r="5.2"/>
</g>
<path d="M550.5 70 L551.25 59.535 L552.75 59.535 L553.5 70 Z" fill="#9c6a3c"/>
<path d="M552 60.34 L549.3 53.9 M552 60.34 L554.7 53.9 M552 61.145 L552 52.9" stroke="#9c6a3c" stroke-width="1.5" stroke-linecap="round"/>
<g fill="#fca82b" >
<ellipse cx="555" cy="74" rx="8" ry="7.2"/>
<circle cx="559.3" cy="75.2" r="5.2"/>
<circle cx="556.6" cy="77.8" r="5.2"/>
<circle cx="552.7" cy="77.5" r="5.2"/>
<circle cx="550.5" cy="74.6" r="5.2"/>
<circle cx="551.7" cy="71.2" r="5.2"/>
<circle cx="555.3" cy="70.0" r="5.2"/>
<circle cx="558.7" cy="71.7" r="5.2"/>
</g>
<path d="M553.5 90 L554.25 80.185 L555.75 80.185 L556.5 90 Z" fill="#9c6a3c"/>
<path d="M555 80.94 L552.3 74.9 M555 80.94 L557.7 74.9 M555 81.695 L555 73.9" stroke="#9c6a3c" stroke-width="1.5" stroke-linecap="round"/>
<g fill="#fca82b" >
<ellipse cx="562" cy="95" rx="8" ry="7.2"/>
<circle cx="566.3" cy="96.2" r="5.2"/>
<circle cx="563.6" cy="98.8" r="5.2"/>
<circle cx="559.7" cy="98.5" r="5.2"/>
<circle cx="557.5" cy="95.6" r="5.2"/>
<circle cx="558.7" cy="92.2" r="5.2"/>
<circle cx="562.3" cy="91.0" r="5.2"/>
<circle cx="565.7" cy="92.7" r="5.2"/>
</g>
<path d="M560.5 115 L561.25 102.585 L562.75 102.585 L563.5 115 Z" fill="#9c6a3c"/>
<path d="M562 103.54 L559.3 95.9 M562 103.54 L564.7 95.9 M562 104.495 L562 94.9" stroke="#9c6a3c" stroke-width="1.5" stroke-linecap="round"/>
<path d="M576 44 L620 35 L665 39 L680 56 L677 98 L662 109 L582 110 L572 95 Z" fill="#5a6b37" stroke="#5a6b37" stroke-width="6" stroke-linejoin="round"/>
<g transform="translate(596 47) skewX(8)">
<rect x="0" y="0" width="20" height="15" fill="#3d62c4" stroke="#c8d0e0" stroke-width="0.8"/>
<path d="M5 0 L5 15 M10 0 L10 15 M15 0 L15 15 M0 7.5 L20 7.5" stroke="#6f8ad8" stroke-width="0.5"/>
<path d="M10 0 L10 15" stroke="#d8e0f0" stroke-width="1"/>
</g>
<g transform="translate(624 62) skewX(5)">
<rect x="0" y="0" width="20" height="15" fill="#3d62c4" stroke="#c8d0e0" stroke-width="0.8"/>
<path d="M5 0 L5 15 M10 0 L10 15 M15 0 L15 15 M0 7.5 L20 7.5" stroke="#6f8ad8" stroke-width="0.5"/>
<path d="M10 0 L10 15" stroke="#d8e0f0" stroke-width="1"/>
</g>
<g transform="translate(642 80) skewX(-5)">
<rect x="0" y="0" width="20" height="15" fill="#3d62c4" stroke="#c8d0e0" stroke-width="0.8"/>
<path d="M5 0 L5 15 M10 0 L10 15 M15 0 L15 15 M0 7.5 L20 7.5" stroke="#6f8ad8" stroke-width="0.5"/>
<path d="M10 0 L10 15" stroke="#d8e0f0" stroke-width="1"/>
</g>
<circle cx="617.5" cy="42.5" r="3.8" fill="#dc2a1e"/>
<path d="M617.5 39.2 l0 -2" stroke="#6a9a3a" stroke-width="1"/>
<circle cx="620" cy="66" r="3.8" fill="#dc2a1e"/>
<path d="M620 62.7 l0 -2" stroke="#6a9a3a" stroke-width="1"/>
<circle cx="582.5" cy="72.5" r="3.8" fill="#dc2a1e"/>
<path d="M582.5 69.2 l0 -2" stroke="#6a9a3a" stroke-width="1"/>
<circle cx="602.5" cy="79" r="3.8" fill="#dc2a1e"/>
<path d="M602.5 75.7 l0 -2" stroke="#6a9a3a" stroke-width="1"/>
<circle cx="622.5" cy="84" r="3.8" fill="#dc2a1e"/>
<path d="M622.5 80.7 l0 -2" stroke="#6a9a3a" stroke-width="1"/>
<circle cx="652" cy="74.5" r="3.8" fill="#dc2a1e"/>
<path d="M652 71.2 l0 -2" stroke="#6a9a3a" stroke-width="1"/>
<circle cx="609" cy="96" r="3.8" fill="#dc2a1e"/>
<path d="M609 92.7 l0 -2" stroke="#6a9a3a" stroke-width="1"/>
<circle cx="582" cy="56" r="5" fill="#8dbb56"/>
<circle cx="581" cy="55" r="2.5" fill="#a5cc6a"/>
<circle cx="635" cy="53" r="5" fill="#8dbb56"/>
<circle cx="634" cy="52" r="2.5" fill="#a5cc6a"/>
<circle cx="592.5" cy="89" r="5" fill="#8dbb56"/>
<circle cx="591.5" cy="88" r="2.5" fill="#a5cc6a"/>
<circle cx="626" cy="94.5" r="5" fill="#8dbb56"/>
<circle cx="625" cy="93.5" r="2.5" fill="#a5cc6a"/>
<path d="M600 68 l-2 -4 M600 68 l0 -4.8 M600 68 l2 -4" stroke="#8fb862" stroke-width="1" fill="none"/>
<path d="M612 60 l-2 -4 M612 60 l0 -4.8 M612 60 l2 -4" stroke="#8fb862" stroke-width="1" fill="none"/>
<path d="M640 45 l-2 -4 M640 45 l0 -4.8 M640 45 l2 -4" stroke="#8fb862" stroke-width="1" fill="none"/>
<path d="M590 100 l-2 -4 M590 100 l0 -4.8 M590 100 l2 -4" stroke="#8fb862" stroke-width="1" fill="none"/>
<path d="M635 78 l-2 -4 M635 78 l0 -4.8 M635 78 l2 -4" stroke="#8fb862" stroke-width="1" fill="none"/>
<path d="M660 70 l-2 -4 M660 70 l0 -4.8 M660 70 l2 -4" stroke="#8fb862" stroke-width="1" fill="none"/>
<path d="M566 150 Q575 143 590 146 L612 150 Q622 160 620 180 Q618 200 606 207 L575 206 Q563 200 562 185 Z" fill="#5a6b37"/>
<path d="M600 146 L640 141 L672 142 L679 150 L677 195 L668 202 L615 202 L603 196 L597 170 Z" fill="#5a6b37" stroke="#5a6b37" stroke-width="5" stroke-linejoin="round"/>
<rect x="668" y="141" width="24" height="58" rx="9" fill="#5a6b37"/>
<path d="M620 160 Q612 185 624 208 M667 146 Q661 172 667 200" stroke="#79944b" stroke-width="3" fill="none"/>
<g transform="translate(622 144) skewX(3)">
<rect x="0" y="0" width="20" height="15" fill="#3d62c4" stroke="#c8d0e0" stroke-width="0.8"/>
<path d="M5 0 L5 15 M10 0 L10 15 M15 0 L15 15 M0 7.5 L20 7.5" stroke="#6f8ad8" stroke-width="0.5"/>
<path d="M10 0 L10 15" stroke="#d8e0f0" stroke-width="1"/>
</g>
<g transform="translate(652 139) skewX(-3)">
<rect x="0" y="0" width="20" height="15" fill="#3d62c4" stroke="#c8d0e0" stroke-width="0.8"/>
<path d="M5 0 L5 15 M10 0 L10 15 M15 0 L15 15 M0 7.5 L20 7.5" stroke="#6f8ad8" stroke-width="0.5"/>
<path d="M10 0 L10 15" stroke="#d8e0f0" stroke-width="1"/>
</g>
<circle cx="629" cy="175.5" r="3.8" fill="#dc2a1e"/>
<path d="M629 172.2 l0 -2" stroke="#6a9a3a" stroke-width="1"/>
<circle cx="648" cy="168" r="3.8" fill="#dc2a1e"/>
<path d="M648 164.7 l0 -2" stroke="#6a9a3a" stroke-width="1"/>
<circle cx="648" cy="188" r="3.8" fill="#dc2a1e"/>
<path d="M648 184.7 l0 -2" stroke="#6a9a3a" stroke-width="1"/>
<circle cx="683.5" cy="152" r="3.8" fill="#dc2a1e"/>
<path d="M683.5 148.7 l0 -2" stroke="#6a9a3a" stroke-width="1"/>
<circle cx="685.5" cy="169" r="3.8" fill="#dc2a1e"/>
<path d="M685.5 165.7 l0 -2" stroke="#6a9a3a" stroke-width="1"/>
<circle cx="677.5" cy="187.5" r="3.8" fill="#dc2a1e"/>
<path d="M677.5 184.2 l0 -2" stroke="#6a9a3a" stroke-width="1"/>
<circle cx="621" cy="164" r="5" fill="#8dbb56"/>
<circle cx="620" cy="163" r="2.5" fill="#a5cc6a"/>
<circle cx="660.5" cy="162.5" r="5" fill="#8dbb56"/>
<circle cx="659.5" cy="161.5" r="2.5" fill="#a5cc6a"/>
<circle cx="633" cy="189" r="5" fill="#8dbb56"/>
<circle cx="632" cy="188" r="2.5" fill="#a5cc6a"/>
<path d="M640 160 l-2 -4 M640 160 l0 -4.8 M640 160 l2 -4" stroke="#8fb862" stroke-width="1" fill="none"/>
<path d="M612 185 l-2 -4 M612 185 l0 -4.8 M612 185 l2 -4" stroke="#8fb862" stroke-width="1" fill="none"/>
<path d="M665 185 l-2 -4 M665 185 l0 -4.8 M665 185 l2 -4" stroke="#8fb862" stroke-width="1" fill="none"/>
<path d="M583 195 l-2 -4 M583 195 l0 -4.8 M583 195 l2 -4" stroke="#8fb862" stroke-width="1" fill="none"/>
<path d="M575 170 l-2 -4 M575 170 l0 -4.8 M575 170 l2 -4" stroke="#8fb862" stroke-width="1" fill="none"/>
<path d="M600 185 l-2 -4 M600 185 l0 -4.8 M600 185 l2 -4" stroke="#8fb862" stroke-width="1" fill="none"/>
<g fill="#fca82b" >
<ellipse cx="577" cy="145" rx="10.4" ry="8.8"/>
<circle cx="582.6" cy="146.5" r="6.4"/>
<circle cx="579.1" cy="149.6" r="6.4"/>
<circle cx="574.1" cy="149.3" r="6.4"/>
<circle cx="571.2" cy="145.7" r="6.4"/>
<circle cx="572.7" cy="141.6" r="6.4"/>
<circle cx="577.4" cy="140.1" r="6.4"/>
<circle cx="581.8" cy="142.2" r="6.4"/>
</g>
<path d="M575.5 177 L576.25 156.915 L577.75 156.915 L578.5 177 Z" fill="#9c6a3c"/>
<path d="M577 158.46 L574.3 146.1 M577 158.46 L579.7 146.1 M577 160.005 L577 145.1" stroke="#9c6a3c" stroke-width="1.5" stroke-linecap="round"/>
<g fill="#678a40" >
<ellipse cx="596" cy="162" rx="15.2" ry="11.2"/>
<circle cx="604.2" cy="163.9" r="8.1"/>
<circle cx="599.1" cy="167.9" r="8.1"/>
<circle cx="591.7" cy="167.5" r="8.1"/>
<circle cx="587.5" cy="162.9" r="8.1"/>
<circle cx="589.7" cy="157.7" r="8.1"/>
<circle cx="596.6" cy="155.7" r="8.1"/>
<circle cx="603.1" cy="158.5" r="8.1"/>
</g>
<path d="M593 196 L594.5 175.265 L597.5 175.265 L599 196 Z" fill="#b0482a"/>
<path d="M596 176.86 L590.6 164.1 M596 176.86 L601.4 164.1 M596 178.455 L596 163.1" stroke="#b0482a" stroke-width="2.1" stroke-linecap="round"/>
<g transform="rotate(0 682 202)">
<rect x="671" y="194" width="22" height="16" rx="5.6" fill="#b8c24a"/>
<path d="M674.0 207.0 L672.1 197.0 M678.0 207.0 L678.5 197.0 M682.0 207.0 L681.9 197.0 M686.0 207.0 L686.9 197.0 M690.0 207.0 L689.3 197.0" stroke="#5a5a28" stroke-width="0.8" fill="none"/>
</g>
<g fill="#b4ad3a" >
<ellipse cx="710" cy="5" rx="16" ry="12"/>
<circle cx="718.6" cy="7.0" r="8.7"/>
<circle cx="713.3" cy="11.3" r="8.7"/>
<circle cx="705.5" cy="10.8" r="8.7"/>
<circle cx="701.1" cy="6.0" r="8.7"/>
<circle cx="703.4" cy="0.4" r="8.7"/>
<circle cx="710.7" cy="-1.7" r="8.7"/>
<circle cx="717.4" cy="1.2" r="8.7"/>
</g>
<path d="M706 22 L708 -2 M708 10 L694 0 M708 8 L722 -2 M710 16 L726 6 M707 14 L696 6" stroke="#2c2a1a" stroke-width="2.8" fill="none"/>
<path d="M694 44 L696.908 40.9535 L695.146 37.0228 L698.849 35.228 L698.445 30.8871 L702.497 30.5605 L703.5 26.3331 L707.411 27.514 L709.701 23.9099 L713 26.456 L716.299 23.9099 L718.589 27.514 L722.5 26.3331 L723.503 30.5605 L727.555 30.8871 L727.151 35.228 L730.854 37.0228 L729.092 40.9535 L732 44 L734 45.2 L724.4 48.08 L713 47.12 L701.6 48.8 L692 45.68 Z" fill="#34533a" />
<path d="M713 33.2 L713 60 M713 38 L706.16 30.8 M713 40 L718.7 32" stroke="#8c8c7c" stroke-width="1.3" fill="none"/>
<g transform="rotate(35 743.5 49)">
<rect x="731" y="40" width="25" height="18" rx="6.3" fill="#b8c24a"/>
<path d="M734.0 55.0 L736.0 43.0 M737.8 55.0 L736.1 43.0 M741.6 55.0 L741.8 43.0 M745.4 55.0 L746.3 43.0 M749.2 55.0 L750.8 43.0 M753.0 55.0 L753.9 43.0" stroke="#5a5a28" stroke-width="0.8" fill="none"/>
</g>
<g transform="rotate(40 761 76)">
<rect x="750" y="66" width="22" height="20" rx="7" fill="#b8c24a"/>
<path d="M753.0 83.0 L753.8 69.0 M757.0 83.0 L758.2 69.0 M761.0 83.0 L762.7 69.0 M765.0 83.0 L764.4 69.0 M769.0 83.0 L769.7 69.0" stroke="#5a5a28" stroke-width="0.8" fill="none"/>
</g>
<g fill="#678a40" >
<ellipse cx="732" cy="65" rx="15.2" ry="12.8"/>
<circle cx="740.2" cy="67.1" r="9.3"/>
<circle cx="735.1" cy="71.7" r="9.3"/>
<circle cx="727.7" cy="71.2" r="9.3"/>
<circle cx="723.5" cy="66.1" r="9.3"/>
<circle cx="725.7" cy="60.1" r="9.3"/>
<circle cx="732.6" cy="57.8" r="9.3"/>
<circle cx="739.1" cy="60.9" r="9.3"/>
</g>
<path d="M728.5 97 L730.25 77.76 L733.75 77.76 L735.5 97 Z" fill="#b0482a"/>
<path d="M732 79.24 L725.7 67.4 M732 79.24 L738.3 67.4 M732 80.72 L732 66.4" stroke="#b0482a" stroke-width="2.45" stroke-linecap="round"/>
<path d="M772 16 L797 9 L829 11 L831 41 L772 31 Z" fill="#1c1c1c" />
<path d="M776 22 L830 25 M776 27 L830 31 M778 18 L830 20 M790 13 L830 15" stroke="#3a3a3a" stroke-width="1"/>
<rect x="826" y="15" width="19" height="27" rx="5" fill="#4c7a3a"/>
<g fill="#678a40" >
<ellipse cx="851" cy="2" rx="16" ry="8"/>
<circle cx="859.6" cy="3.3" r="5.8"/>
<circle cx="854.3" cy="6.2" r="5.8"/>
<circle cx="846.5" cy="5.9" r="5.8"/>
<circle cx="842.1" cy="2.7" r="5.8"/>
<circle cx="844.4" cy="-1.1" r="5.8"/>
<circle cx="851.7" cy="-2.5" r="5.8"/>
<circle cx="858.4" cy="-0.5" r="5.8"/>
</g>
<path d="M848 25 L849.5 10.05 L852.5 10.05 L854 25 Z" fill="#b0482a"/>
<path d="M851 11.2 L845.6 2 M851 11.2 L856.4 2 M851 12.35 L851 1" stroke="#b0482a" stroke-width="2.1" stroke-linecap="round"/>
<ellipse cx="917" cy="25" rx="12" ry="12" fill="#56793a"/>
<path d="M954 19 L957.521 15.4458 L955.387 10.8599 L959.87 8.766 L959.381 3.70165 L964.286 3.3206 L965.5 -1.6114 L970.235 -0.233629 L973.006 -4.43842 L977 -1.468 L980.994 -4.43842 L983.765 -0.233629 L988.5 -1.6114 L989.714 3.3206 L994.619 3.70165 L994.13 8.766 L998.613 10.8599 L996.479 15.4458 L1000 19 L1002 20.4 L990.8 23.76 L977 22.64 L963.2 24.6 L952 20.96 Z" fill="#34533a" />
<path d="M977 6.4 L977 40 M977 12 L968.72 3.6 M977 14 L983.9 5" stroke="#8c8c7c" stroke-width="1.3" fill="none"/>
<rect x="890" y="54" width="61" height="21" rx="10.5" fill="#5a6b37"/>
<path d="M900.2 69.8 L897.2 60.3 M900.2 69.8 L900.2 59.2 M900.2 69.8 L903.2 60.3 M920.5 69.8 L917.5 60.3 M920.5 69.8 L920.5 59.2 M920.5 69.8 L923.5 60.3 M940.8 69.8 L937.8 60.3 M940.8 69.8 L940.8 59.2 M940.8 69.8 L943.8 60.3" stroke="#8fb862" stroke-width="1.2" fill="none"/>
<rect x="891" y="80" width="60" height="19" rx="9.5" fill="#5a6b37"/>
<path d="M901.0 94.2 L898.0 85.7 M901.0 94.2 L901.0 84.8 M901.0 94.2 L904.0 85.7 M921.0 94.2 L918.0 85.7 M921.0 94.2 L921.0 84.8 M921.0 94.2 L924.0 85.7 M941.0 94.2 L938.0 85.7 M941.0 94.2 L941.0 84.8 M941.0 94.2 L944.0 85.7" stroke="#8fb862" stroke-width="1.2" fill="none"/>
<rect x="892" y="104" width="62" height="21" rx="10.5" fill="#5a6b37"/>
<path d="M902.3 119.8 L899.3 110.3 M902.3 119.8 L902.3 109.2 M902.3 119.8 L905.3 110.3 M923.0 119.8 L920.0 110.3 M923.0 119.8 L923.0 109.2 M923.0 119.8 L926.0 110.3 M943.7 119.8 L940.7 110.3 M943.7 119.8 L943.7 109.2 M943.7 119.8 L946.7 110.3" stroke="#8fb862" stroke-width="1.2" fill="none"/>
<g fill="#678a40" >
<ellipse cx="977" cy="57" rx="15.2" ry="12"/>
<circle cx="985.2" cy="59.0" r="8.7"/>
<circle cx="980.1" cy="63.3" r="8.7"/>
<circle cx="972.7" cy="62.8" r="8.7"/>
<circle cx="968.5" cy="58.0" r="8.7"/>
<circle cx="970.7" cy="52.4" r="8.7"/>
<circle cx="977.6" cy="50.3" r="8.7"/>
<circle cx="984.1" cy="53.2" r="8.7"/>
</g>
<path d="M973.5 89 L975.25 69.6625 L978.75 69.6625 L980.5 89 Z" fill="#b0482a"/>
<path d="M977 71.15 L970.7 59.25 M977 71.15 L983.3 59.25 M977 72.6375 L977 58.25" stroke="#b0482a" stroke-width="2.45" stroke-linecap="round"/>
<rect x="959" y="100" width="31" height="5" fill="#9a4a2e"/><rect x="957" y="106" width="35" height="3" fill="#9a4a2e"/><rect x="961" y="108" width="3" height="6" fill="#9a4a2e"/><rect x="985" y="108" width="3" height="6" fill="#9a4a2e"/>
<g transform="rotate(0 910 156.5)">
<rect x="896" y="149" width="28" height="15" rx="5.25" fill="#b8c24a"/>
<path d="M899.0 161.0 L900.6 152.0 M902.7 161.0 L904.2 152.0 M906.3 161.0 L906.0 152.0 M910.0 161.0 L911.2 152.0 M913.7 161.0 L915.1 152.0 M917.3 161.0 L917.6 152.0 M921.0 161.0 L921.5 152.0" stroke="#5a5a28" stroke-width="0.8" fill="none"/>
</g>
<g transform="rotate(0 937 152)">
<rect x="924" y="144" width="26" height="16" rx="5.6" fill="#b8c24a"/>
<path d="M927.0 157.0 L926.5 147.0 M931.0 157.0 L931.3 147.0 M935.0 157.0 L935.4 147.0 M939.0 157.0 L937.3 147.0 M943.0 157.0 L943.6 147.0 M947.0 157.0 L949.0 147.0" stroke="#5a5a28" stroke-width="0.8" fill="none"/>
</g>
<g transform="rotate(0 962 154)">
<rect x="949" y="146" width="26" height="16" rx="5.6" fill="#b8c24a"/>
<path d="M952.0 159.0 L953.5 149.0 M956.0 159.0 L956.9 149.0 M960.0 159.0 L959.6 149.0 M964.0 159.0 L964.9 149.0 M968.0 159.0 L968.3 149.0 M972.0 159.0 L971.8 149.0" stroke="#5a5a28" stroke-width="0.8" fill="none"/>
</g>
<circle cx="940" cy="167" r="6" fill="#fca82b"/>
<g fill="#a9a731" >
<ellipse cx="797" cy="130" rx="20" ry="16.8"/>
<circle cx="807.7" cy="132.8" r="12.2"/>
<circle cx="801.1" cy="138.8" r="12.2"/>
<circle cx="791.4" cy="138.2" r="12.2"/>
<circle cx="785.9" cy="131.4" r="12.2"/>
<circle cx="788.8" cy="123.6" r="12.2"/>
<circle cx="797.8" cy="120.6" r="12.2"/>
<circle cx="806.3" cy="124.7" r="12.2"/>
</g>
<path d="M790 150 Q786 130 778 118 M795 150 Q795 128 792 112 M800 150 Q802 130 810 116 M804 150 Q812 138 820 128 M788 150 Q780 140 774 136" stroke="#3a3a20" stroke-width="0.9" fill="none"/>
<path d="M712 141.5 L714.296 138.707 L712.905 135.104 L715.828 133.459 L715.509 129.48 L718.708 129.18 L719.5 125.305 L722.588 126.388 L724.395 123.084 L727 125.418 L729.605 123.084 L731.412 126.388 L734.5 125.305 L735.292 129.18 L738.491 129.48 L738.172 133.459 L741.095 135.104 L739.704 138.707 L742 141.5 L744 142.6 L736 145.24 L727 144.36 L718 145.9 L710 143.04 Z" fill="#34533a" />
<path d="M727 131.6 L727 152 M727 136 L721.6 129.4 M727 138 L731.5 130.5" stroke="#8c8c7c" stroke-width="1.3" fill="none"/>
<path d="M700 161 L702.296 157.954 L700.905 154.023 L703.828 152.228 L703.509 147.887 L706.708 147.561 L707.5 143.333 L710.588 144.514 L712.395 140.91 L715 143.456 L717.605 140.91 L719.412 144.514 L722.5 143.333 L723.292 147.561 L726.491 147.887 L726.172 152.228 L729.095 154.023 L727.704 157.954 L730 161 L732 162.2 L724 165.08 L715 164.12 L706 165.8 L698 162.68 Z" fill="#34533a" />
<path d="M715 150.2 L715 172 M715 155 L709.6 147.8 M715 157 L719.5 149" stroke="#8c8c7c" stroke-width="1.3" fill="none"/>
<path d="M690 171.5 L692.449 168.707 L690.965 165.104 L694.083 163.459 L693.743 159.48 L697.155 159.18 L698 155.305 L701.294 156.388 L703.222 153.084 L706 155.418 L708.778 153.084 L710.706 156.388 L714 155.305 L714.845 159.18 L718.257 159.48 L717.917 163.459 L721.035 165.104 L719.551 168.707 L722 171.5 L724 172.6 L715.6 175.24 L706 174.36 L696.4 175.9 L688 173.04 Z" fill="#34533a" />
<path d="M706 161.6 L706 185 M706 166 L700.24 159.4 M706 168 L710.8 160.5" stroke="#8c8c7c" stroke-width="1.3" fill="none"/>
<path d="M735 168.25 L737.296 165.077 L735.905 160.982 L738.828 159.113 L738.509 154.591 L741.708 154.251 L742.5 149.847 L745.588 151.077 L747.395 147.323 L750 149.975 L752.605 147.323 L754.412 151.077 L757.5 149.847 L758.292 154.251 L761.491 154.591 L761.172 159.112 L764.095 160.982 L762.704 165.077 L765 168.25 L767 169.5 L759 172.5 L750 171.5 L741 173.25 L733 170 Z" fill="#34533a" />
<path d="M750 157 L750 178 M750 162 L744.6 154.5 M750 164 L754.5 155.75" stroke="#8c8c7c" stroke-width="1.3" fill="none"/>
<path d="M747 146.5 L749.296 143.707 L747.905 140.104 L750.828 138.459 L750.509 134.48 L753.708 134.18 L754.5 130.305 L757.588 131.388 L759.395 128.084 L762 130.418 L764.605 128.084 L766.412 131.388 L769.5 130.305 L770.292 134.18 L773.491 134.48 L773.172 138.459 L776.095 140.104 L774.704 143.707 L777 146.5 L779 147.6 L771 150.24 L762 149.36 L753 150.9 L745 148.04 Z" fill="#34533a" />
<path d="M762 136.6 L762 160 M762 141 L756.6 134.4 M762 143 L766.5 135.5" stroke="#8c8c7c" stroke-width="1.3" fill="none"/>
<path d="M744.5 196.25 L746.566 193.584 L745.314 190.145 L747.945 188.575 L747.658 184.776 L750.537 184.49 L751.25 180.791 L754.029 181.825 L755.656 178.671 L758 180.899 L760.344 178.671 L761.971 181.825 L764.75 180.791 L765.463 184.49 L768.342 184.776 L768.055 188.575 L770.686 190.145 L769.434 193.584 L771.5 196.25 L773.5 197.3 L766.1 199.82 L758 198.98 L749.9 200.45 L742.5 197.72 Z" fill="#34533a" />
<path d="M758 186.8 L758 205 M758 191 L753.14 184.7 M758 193 L762.05 185.75" stroke="#8c8c7c" stroke-width="1.3" fill="none"/>
<path d="M792 185.5 L793.531 182.2 L792.603 177.941 L794.552 175.997 L794.34 171.294 L796.472 170.941 L797 166.361 L799.059 167.64 L800.264 163.736 L802 166.494 L803.736 163.736 L804.941 167.64 L807 166.361 L807.528 170.941 L809.66 171.294 L809.448 175.997 L811.397 177.941 L810.469 182.2 L812 185.5 L814 186.8 L808 189.92 L802 188.88 L796 190.7 L790 187.32 Z" fill="#34533a" />
<path d="M802 173.8 L802 200 M802 179 L798.4 171.2 M802 181 L805 172.5" stroke="#8c8c7c" stroke-width="1.3" fill="none"/>
<g transform="rotate(0 800.5 164.5)">
<rect x="786" y="157" width="29" height="15" rx="5.25" fill="#b8c24a"/>
<path d="M789.0 169.0 L790.4 160.0 M792.8 169.0 L791.2 160.0 M796.7 169.0 L797.7 160.0 M800.5 169.0 L798.6 160.0 M804.3 169.0 L804.7 160.0 M808.2 169.0 L808.1 160.0 M812.0 169.0 L810.9 160.0" stroke="#5a5a28" stroke-width="0.8" fill="none"/>
</g>
<g transform="rotate(-45 736 192)">
<rect x="721" y="183" width="30" height="18" rx="6.3" fill="#b8c24a"/>
<path d="M724.0 198.0 L724.8 186.0 M728.0 198.0 L728.0 186.0 M732.0 198.0 L732.5 186.0 M736.0 198.0 L737.7 186.0 M740.0 198.0 L739.0 186.0 M744.0 198.0 L742.0 186.0 M748.0 198.0 L747.2 186.0" stroke="#5a5a28" stroke-width="0.8" fill="none"/>
</g>
<g transform="rotate(0 694.5 202.5)">
<rect x="690" y="195" width="9" height="15" rx="3.15" fill="#b8c24a"/>
<path d="M693.0 207.0 L693.7 198.0 M696.0 207.0 L694.8 198.0" stroke="#5a5a28" stroke-width="0.8" fill="none"/>
</g>
<g fill="#5a7432" >
<ellipse cx="693" cy="158" rx="8" ry="19.2"/>
<circle cx="697.3" cy="161.2" r="5.8"/>
<circle cx="694.6" cy="168.1" r="5.8"/>
<circle cx="690.7" cy="167.3" r="5.8"/>
<circle cx="688.5" cy="159.6" r="5.8"/>
<circle cx="689.7" cy="150.6" r="5.8"/>
<circle cx="693.3" cy="147.2" r="5.8"/>
<circle cx="696.7" cy="151.9" r="5.8"/>
</g>
<g fill="#678a40" >
<ellipse cx="783" cy="185" rx="11.2" ry="11.2"/>
<circle cx="789.0" cy="186.9" r="8.1"/>
<circle cx="785.3" cy="190.9" r="8.1"/>
<circle cx="779.8" cy="190.5" r="8.1"/>
<circle cx="776.8" cy="185.9" r="8.1"/>
<circle cx="778.4" cy="180.7" r="8.1"/>
<circle cx="783.5" cy="178.7" r="8.1"/>
<circle cx="788.2" cy="181.5" r="8.1"/>
</g>
<path d="M780 207 L781.5 194.065 L784.5 194.065 L786 207 Z" fill="#b0482a"/>
<path d="M783 195.06 L777.6 187.1 M783 195.06 L788.4 187.1 M783 196.055 L783 186.1" stroke="#b0482a" stroke-width="2.1" stroke-linecap="round"/>
<g fill="#fca82b" >
<ellipse cx="823" cy="181" rx="9.6" ry="10.4"/>
<circle cx="828.2" cy="182.7" r="7.0"/>
<circle cx="825.0" cy="186.4" r="7.0"/>
<circle cx="820.3" cy="186.1" r="7.0"/>
<circle cx="817.7" cy="181.9" r="7.0"/>
<circle cx="819.0" cy="177.0" r="7.0"/>
<circle cx="823.4" cy="175.2" r="7.0"/>
<circle cx="827.5" cy="177.7" r="7.0"/>
</g>
<path d="M821 205 L822 190.245 L824 190.245 L825 205 Z" fill="#9c6a3c"/>
<path d="M823 191.38 L819.4 182.3 M823 191.38 L826.6 182.3 M823 192.515 L823 181.3" stroke="#9c6a3c" stroke-width="1.5" stroke-linecap="round"/>
<g fill="#678a40" >
<ellipse cx="845" cy="185" rx="10.4" ry="11.2"/>
<circle cx="850.6" cy="186.9" r="7.5"/>
<circle cx="847.1" cy="190.9" r="7.5"/>
<circle cx="842.1" cy="190.5" r="7.5"/>
<circle cx="839.2" cy="185.9" r="7.5"/>
<circle cx="840.7" cy="180.7" r="7.5"/>
<circle cx="845.4" cy="178.7" r="7.5"/>
<circle cx="849.8" cy="181.5" r="7.5"/>
</g>
<path d="M842 210 L843.5 195.115 L846.5 195.115 L848 210 Z" fill="#b0482a"/>
<path d="M845 196.26 L839.6 187.1 M845 196.26 L850.4 187.1 M845 197.405 L845 186.1" stroke="#b0482a" stroke-width="2.1" stroke-linecap="round"/>
<rect x="822" y="113" width="46" height="19" fill="#b7c4d8"/><path d="M822 113.5 H868" stroke="#333" stroke-width="1.2"/>
<rect x="823" y="117" width="5" height="14" fill="#2a2a2a"/><rect x="829" y="117" width="14" height="14" fill="#7a4a3a"/>
<path d="M817 146 L826 139 L866 137 L866 166 L821 169 Z" fill="#4a3d44" />
<rect x="820" y="150" width="6" height="10" fill="#b8c4d0"/><rect x="857" y="148" width="5" height="8" fill="#b8c4d0"/>
<circle cx="439" cy="55" r="10" fill="#8e0f12"/>
<text x="439.3" y="59.14" font-size="11.5" font-weight="bold" fill="#e4e4e4" stroke="#000" stroke-width="3" paint-order="stroke" stroke-linejoin="round" text-anchor="middle" font-family="Liberation Sans" letter-spacing="-0.6">13</text>
<circle cx="460" cy="95" r="10" fill="#8e0f12"/>
<text x="460.3" y="99.14" font-size="11.5" font-weight="bold" fill="#e4e4e4" stroke="#000" stroke-width="3" paint-order="stroke" stroke-linejoin="round" text-anchor="middle" font-family="Liberation Sans" letter-spacing="-0.6">12</text>
<circle cx="644" cy="121" r="10" fill="#8e0f12"/>
<text x="644.3" y="125.14" font-size="11.5" font-weight="bold" fill="#e4e4e4" stroke="#000" stroke-width="3" paint-order="stroke" stroke-linejoin="round" text-anchor="middle" font-family="Liberation Sans" letter-spacing="-0.6">14</text>
<circle cx="762" cy="25" r="10" fill="#8e0f12"/>
<text x="762.3" y="29.14" font-size="11.5" font-weight="bold" fill="#e4e4e4" stroke="#000" stroke-width="3" paint-order="stroke" stroke-linejoin="round" text-anchor="middle" font-family="Liberation Sans" letter-spacing="-0.6">17</text>
<circle cx="776" cy="120" r="10" fill="#8e0f12"/>
<text x="776.3" y="124.14" font-size="11.5" font-weight="bold" fill="#e4e4e4" stroke="#000" stroke-width="3" paint-order="stroke" stroke-linejoin="round" text-anchor="middle" font-family="Liberation Sans" letter-spacing="-0.6">21</text>
<circle cx="859.5" cy="138" r="10" fill="#8e0f12"/>
<text x="859.8" y="142.14" font-size="11.5" font-weight="bold" fill="#e4e4e4" stroke="#000" stroke-width="3" paint-order="stroke" stroke-linejoin="round" text-anchor="middle" font-family="Liberation Sans" letter-spacing="-0.6">20</text>
<circle cx="898" cy="129.5" r="10" fill="#8e0f12"/>
<text x="898.3" y="133.64" font-size="11.5" font-weight="bold" fill="#e4e4e4" stroke="#000" stroke-width="3" paint-order="stroke" stroke-linejoin="round" text-anchor="middle" font-family="Liberation Sans" letter-spacing="-0.6">19</text>
<rect x="452" y="219" width="48" height="8" fill="#d4d4d4"/>
<path d="M452 221 H500 M452 224 H500" stroke="#b8b8c0" stroke-width="0.6"/>
<ellipse cx="441" cy="225" rx="11" ry="6" fill="#4a6a30"/>
<circle cx="498" cy="271" r="7" fill="#fca82b"/>
<ellipse cx="446" cy="342" rx="7" ry="14" fill="#8fbc3a"/>
<path d="M462 303 L525 304 L564 303 L555 311 L462 312 Z" fill="#2a2228"/>
<rect x="458" y="313" width="88" height="12" fill="#c8d8f0"/>
<path d="M461 316 v8 M465 316 v8 M469 316 v8 M473 316 v8 M477 316 v8 M481 316 v8 M485 316 v8 M489 316 v8 M493 316 v8 M497 316 v8 M501 316 v8 M505 316 v8 M509 316 v8 M513 316 v8 M517 316 v8 M521 316 v8 M525 316 v8 M529 316 v8 M533 316 v8 M537 316 v8 M541 316 v8" stroke="#111" stroke-width="3"/>
<path d="M518 324 v12 M522 324 v12 M526 324 v12 M530 324 v12 M534 324 v12 M538 324 v12 M542 324 v12" stroke="#111" stroke-width="3"/>
<rect x="545" y="311" width="13" height="25" fill="#b09a88"/>
<rect x="449" y="339" width="82" height="16" fill="#5a9ae8"/>
<rect x="527" y="336" width="37" height="17" fill="#5a9ae8"/>
<ellipse cx="520.5" cy="332" rx="12.5" ry="6.5" fill="#8ab83a"/>
<path d="M466 342 v11 M470 342 v11 M474 342 v11 M478 342 v11 M521 339 v11 M495 341 h6" stroke="#111" stroke-width="2.4"/>
<path d="M529 336 L546 333 L568 352 L551 356 Z" fill="#4a3a3a"/>
<path d="M533 338 L545 336 L562 351 L551 353 Z" fill="#6a9ae0"/>
<path d="M538 337 L555 352 M542 336 L559 351" stroke="#4a3a3a" stroke-width="1"/>
<path d="M464 371 L452 360 M464 371 L456 356 M464 371 L462 354 M464 371 L469 355 M464 371 L475 358 M464 371 L478 364 M464 371 L451 366" stroke="#9ab83a" stroke-width="2.2" stroke-linecap="round"/>
<path d="M458 369 h12 l-2 9 h-8 z" fill="#e8962a"/>
<rect x="538" y="362" width="25" height="20" rx="4" fill="#3a80d8"/>
<ellipse cx="550.5" cy="362" rx="12.5" ry="4.5" fill="#d4d8dc"/>
<path d="M398 381 L404 377 L426 378 L426 404 L420 408 L398 408 Z" fill="#c08a70"/>
<rect x="398" y="382" width="20" height="26" fill="#9a6a50"/>
<path d="M418 382 L426 378 L426 404 L418 408 Z" fill="#b88068"/>
<rect x="389" y="398" width="18" height="18" fill="#fff200"/>
<g transform="translate(389 398) scale(0.53)"><path d="M8 4.8 C 14 5.5, 19 9, 19 13 C 18.5 17, 16 20.5, 13 21.6 C 8.5 19, 5.8 13, 8 4.8 Z"/><path d="M26 10.5 C 27.5 17, 25 25, 18 28.5 C 13.5 26, 11.5 22, 13 18 C 15 13.5, 20 11, 26 10.5 Z"/></g>
<g fill="#7e4528"><rect x="405" y="454" width="31" height="4.5"/><rect x="403" y="460" width="35" height="3"/><rect x="407" y="462" width="2.5" height="7"/><rect x="431" y="462" width="2.5" height="7"/></g>
<path d="M484 393 L469 411" stroke="#5a7636" stroke-width="12" stroke-linecap="round"/>
<path d="M476.5 404 l-2 -5 M478.5 404 l2 -5" stroke="#86a85a" stroke-width="1" fill="none"/>
<path d="M491 414 L472 442" stroke="#5a7636" stroke-width="12" stroke-linecap="round"/>
<path d="M481.5 430 l-2 -5 M483.5 430 l2 -5" stroke="#86a85a" stroke-width="1" fill="none"/>
<path d="M502 427 L481 467" stroke="#5a7636" stroke-width="12" stroke-linecap="round"/>
<path d="M491.5 449 l-2 -5 M493.5 449 l2 -5" stroke="#86a85a" stroke-width="1" fill="none"/>
<path d="M513 443 L498 472" stroke="#5a7636" stroke-width="12" stroke-linecap="round"/>
<path d="M505.5 459.5 l-2 -5 M507.5 459.5 l2 -5" stroke="#86a85a" stroke-width="1" fill="none"/>
<g fill="#7e4528"><rect x="502" y="390" width="26" height="4.5"/><rect x="498" y="397" width="35" height="3.5"/><rect x="503" y="400" width="3" height="7"/><rect x="525" y="400" width="3" height="7"/><rect x="504" y="394" width="22" height="2"/></g>
<g fill="#7e4528"><rect x="513.5" y="412" width="26" height="4.5"/><rect x="509.5" y="419" width="35" height="3.5"/><rect x="514.5" y="422" width="3" height="7"/><rect x="536.5" y="422" width="3" height="7"/><rect x="515.5" y="416" width="22" height="2"/></g>
<g transform="rotate(0 555.6 392.7)">
<rect x="541.6" y="384.7" width="28" height="16" rx="5.6" fill="#b5c048"/>
<path d="M544.6 397.7 L543.3 387.7 M548.3 397.7 L549.9 387.7 M551.9 397.7 L552.6 387.7 M555.6 397.7 L555.4 387.7 M559.3 397.7 L560.8 387.7 M562.9 397.7 L562.2 387.7 M566.6 397.7 L567.3 387.7" stroke="#5a5a28" stroke-width="0.8" fill="none"/>
</g>
<g transform="rotate(0 546 407)">
<rect x="539" y="400" width="14" height="14" rx="4.9" fill="#b5c048"/>
<path d="M542.0 411.0 L540.8 403.0 M546.0 411.0 L545.7 403.0 M550.0 411.0 L551.2 403.0" stroke="#5a5a28" stroke-width="0.8" fill="none"/>
</g>
<path d="M545 425 Q548 400 560 390 Q572 388 577 400 Q579 415 570 428 Z" fill="#8aa655"/>
<path d="M550 425 L553 400 M556 425 L560 395 M562 425 L566 398 M568 422 L573 402" stroke="#5a7a38" stroke-width="1" fill="none"/>
<ellipse cx="540" cy="476" rx="18" ry="8" fill="#3e6a35"/>
<g transform="rotate(15 575 472)">
<rect x="560" y="465" width="30" height="14" rx="4.9" fill="#b8c24a"/>
<path d="M563.0 476.0 L564.7 468.0 M567.0 476.0 L568.5 468.0 M571.0 476.0 L570.5 468.0 M575.0 476.0 L575.3 468.0 M579.0 476.0 L578.3 468.0 M583.0 476.0 L581.5 468.0 M587.0 476.0 L587.0 468.0" stroke="#5a5a28" stroke-width="0.8" fill="none"/>
</g>
<g transform="rotate(0 526.5 476)">
<rect x="514" y="470" width="25" height="12" rx="4.2" fill="#b8c24a"/>
<path d="M517.0 479.0 L518.3 473.0 M520.8 479.0 L522.2 473.0 M524.6 479.0 L525.4 473.0 M528.4 479.0 L530.2 473.0 M532.2 479.0 L531.3 473.0 M536.0 479.0 L534.7 473.0" stroke="#5a5a28" stroke-width="0.8" fill="none"/>
</g>
<rect x="504" y="237" width="17" height="4.5" fill="#d8231a"/><ellipse cx="532" cy="239" rx="8" ry="3.5" fill="#8e0f12"/>
<g stroke="#111" stroke-width="1.3" fill="none"><circle cx="585" cy="244" r="5"/><circle cx="600" cy="244" r="5"/><path d="M585 244 L591 236 L600 244 M591 236 L598 236 L600 244 M589 233 h4 M598 236 l1 -4 h3"/><circle cx="584" cy="261" r="5"/><circle cx="600" cy="261" r="5"/><path d="M584 261 L591 253 L600 261 M591 253 L598 253 L600 261 M589 250 h4 M598 253 l1 -4 h3"/></g>
<path d="M601 262 v-17 q3 -3 6 0 v22 M601 268 h7" stroke="#c0302a" stroke-width="1.3" fill="none"/>
<circle cx="626" cy="229" r="8" fill="#fca82b"/>
<path d="M590 262 L592.4 266 L591.68 266 L594.8 270 L593.36 270 L597.2 274 L595.04 274 L599.6 278 L596.72 278 L602 282 L578 282 L583.28 278 L580.4 278 L584.96 274 L582.8 274 L586.64 270 L585.2 270 L588.32 266 L587.6 266 Z" fill="#4a6a42" />
<path d="M596 276 L600.6 284.4 L599.22 284.4 L605.2 292.8 L602.44 292.8 L609.8 301.2 L605.66 301.2 L614.4 309.6 L608.88 309.6 L619 318 L573 318 L583.12 309.6 L577.6 309.6 L586.34 301.2 L582.2 301.2 L589.56 292.8 L586.8 292.8 L592.78 284.4 L591.4 284.4 Z" fill="#2c4a2c" />
<path d="M602 300 L606 306 L604.8 306 L610 312 L607.6 312 L614 318 L610.4 318 L618 324 L613.2 324 L622 330 L582 330 L590.8 324 L586 324 L593.6 318 L590 318 L596.4 312 L594 312 L599.2 306 L598 306 Z" fill="#3a5a38" />
<path d="M606 318 L610.4 323 L609.08 323 L614.8 328 L612.16 328 L619.2 333 L615.24 333 L623.6 338 L618.32 338 L628 343 L584 343 L593.68 338 L588.4 338 L596.76 333 L592.8 333 L599.84 328 L597.2 328 L602.92 323 L601.6 323 Z" fill="#2c4a2c" />
<path d="M632 262 Q640 254 650 256 Q660 252 672 255 Q684 252 695 256 Q703 262 700 272 Q690 280 680 278 Q668 284 655 282 Q642 285 634 278 Z" fill="#34533a"/>
<path d="M652 267 L652 299 M680 257 L680 272" stroke="#8c8c7c" stroke-width="1.3"/>
<rect x="642" y="323" width="11" height="19" fill="#d8602a"/><rect x="665" y="323" width="10" height="19" fill="#d8602a"/>
<rect x="653" y="326" width="12" height="12" fill="#a8502c"/>
<rect x="649" y="321" width="21" height="6" fill="#8a8a8a"/>
<path d="M583 340.5 L586.367 337.707 L584.327 334.104 L588.615 332.459 L588.147 328.48 L592.838 328.18 L594 324.305 L598.529 325.388 L601.18 322.084 L605 324.418 L608.82 322.084 L611.471 325.388 L616 324.305 L617.162 328.18 L621.853 328.48 L621.385 332.459 L625.673 334.104 L623.633 337.707 L627 340.5 L629 341.6 L618.2 344.24 L605 343.36 L591.8 344.9 L581 342.04 Z" fill="#34533a" />
<g transform="rotate(-10 603 368)">
<rect x="593" y="343" width="20" height="50" rx="7" fill="#b8c24a"/>
<path d="M596.0 390.0 L595.8 346.0 M599.5 390.0 L598.6 346.0 M603.0 390.0 L601.9 346.0 M606.5 390.0 L606.2 346.0 M610.0 390.0 L610.5 346.0" stroke="#5a5a28" stroke-width="0.8" fill="none"/>
</g>
<path d="M617 373.5 L618.99 370.707 L617.784 367.104 L620.318 365.459 L620.041 361.48 L622.814 361.18 L623.5 357.305 L626.176 358.388 L627.743 355.084 L630 357.418 L632.257 355.084 L633.824 358.388 L636.5 357.305 L637.186 361.18 L639.959 361.48 L639.682 365.459 L642.216 367.104 L641.01 370.707 L643 373.5 L645 374.6 L637.8 377.24 L630 376.36 L622.2 377.9 L615 375.04 Z" fill="#34533a" />
<path d="M630 363.6 L630 382 M630 368 L625.32 361.4 M630 370 L633.9 362.5" stroke="#8c8c7c" stroke-width="1.3" fill="none"/>
<rect x="653" y="358" width="9" height="11" fill="#b0aaa0"/>
<path d="M642.7 383.3 L673.3 358.5 L703.5 401.5 L700 404 L681.7 378 L681.7 415 L646.7 415 L646.7 386 Z" fill="#a4583e"/>
<path d="M673.3 364 L699 401.5 L699 410 L681.7 410 L681.7 376 Z" fill="#3a3530"/>
<rect x="663" y="388" width="12" height="10" fill="#6a3a2c"/><rect x="663" y="403" width="12" height="9" fill="#6a3a2c"/>
<rect x="692" y="400" width="32" height="4" fill="#9a4a2e"/><rect x="690" y="406" width="36" height="3" fill="#9a4a2e"/><rect x="694" y="408" width="3" height="6" fill="#9a4a2e"/><rect x="719" y="408" width="3" height="6" fill="#9a4a2e"/>
<g transform="rotate(0 647.5 430)">
<rect x="633" y="422" width="29" height="16" rx="5.6" fill="#b8c24a"/>
<path d="M636.0 435.0 L636.0 425.0 M639.8 435.0 L639.1 425.0 M643.7 435.0 L645.0 425.0 M647.5 435.0 L649.4 425.0 M651.3 435.0 L651.1 425.0 M655.2 435.0 L653.5 425.0 M659.0 435.0 L657.1 425.0" stroke="#5a5a28" stroke-width="0.8" fill="none"/>
</g>
<g transform="rotate(0 679 430)">
<rect x="665" y="422" width="28" height="16" rx="5.6" fill="#b8c24a"/>
<path d="M668.0 435.0 L669.5 425.0 M671.7 435.0 L669.8 425.0 M675.3 435.0 L676.2 425.0 M679.0 435.0 L679.3 425.0 M682.7 435.0 L681.9 425.0 M686.3 435.0 L687.5 425.0 M690.0 435.0 L688.1 425.0" stroke="#5a5a28" stroke-width="0.8" fill="none"/>
</g>
<rect x="600" y="398" width="30" height="20" fill="#dfe7f1"/><path d="M604 418 v14 M626 418 v14" stroke="#333" stroke-width="1"/>
<rect x="770" y="446" width="32" height="24" fill="#dfe7f1"/><path d="M774 470 v10 M798 470 v10" stroke="#333" stroke-width="1"/>
<g fill="#fca82b" >
<ellipse cx="750" cy="395" rx="13.6" ry="12.8"/>
<circle cx="757.3" cy="397.1" r="9.3"/>
<circle cx="752.8" cy="401.7" r="9.3"/>
<circle cx="746.2" cy="401.2" r="9.3"/>
<circle cx="742.4" cy="396.1" r="9.3"/>
<circle cx="744.4" cy="390.1" r="9.3"/>
<circle cx="750.6" cy="387.8" r="9.3"/>
<circle cx="756.3" cy="390.9" r="9.3"/>
</g>
<path d="M747.5 432 L748.75 408.99 L751.25 408.99 L752.5 432 Z" fill="#9c6a3c"/>
<path d="M750 410.76 L745.5 396.6 M750 410.76 L754.5 396.6 M750 412.53 L750 395.6" stroke="#9c6a3c" stroke-width="1.75" stroke-linecap="round"/>
<rect x="699" y="287" width="8.5" height="8.6" fill="#2f6b30"/><path d="M703 295 v16" stroke="#556" stroke-width="1.3"/>
<g transform="rotate(0 724 309)">
<rect x="705" y="302" width="38" height="14" rx="4.9" fill="#b8c24a"/>
<path d="M708.0 313.0 L706.5 305.0 M712.0 313.0 L711.8 305.0 M716.0 313.0 L714.1 305.0 M720.0 313.0 L721.3 305.0 M724.0 313.0 L722.9 305.0 M728.0 313.0 L726.6 305.0 M732.0 313.0 L730.2 305.0 M736.0 313.0 L736.5 305.0 M740.0 313.0 L739.8 305.0" stroke="#5a5a28" stroke-width="0.8" fill="none"/>
</g>
<g transform="rotate(0 725 322)">
<rect x="706" y="315" width="38" height="14" rx="4.9" fill="#b8c24a"/>
<path d="M709.0 326.0 L709.5 318.0 M713.0 326.0 L713.6 318.0 M717.0 326.0 L718.2 318.0 M721.0 326.0 L722.8 318.0 M725.0 326.0 L725.7 318.0 M729.0 326.0 L727.8 318.0 M733.0 326.0 L732.9 318.0 M737.0 326.0 L735.7 318.0 M741.0 326.0 L739.0 318.0" stroke="#5a5a28" stroke-width="0.8" fill="none"/>
</g>
<g transform="rotate(0 727 335)">
<rect x="708" y="328" width="38" height="14" rx="4.9" fill="#b8c24a"/>
<path d="M711.0 339.0 L710.9 331.0 M715.0 339.0 L715.9 331.0 M719.0 339.0 L717.7 331.0 M723.0 339.0 L722.1 331.0 M727.0 339.0 L726.4 331.0 M731.0 339.0 L731.8 331.0 M735.0 339.0 L735.1 331.0 M739.0 339.0 L739.5 331.0 M743.0 339.0 L744.0 331.0" stroke="#5a5a28" stroke-width="0.8" fill="none"/>
</g>
<path d="M762 348 Q770 325 790 325 Q805 328 812 340" stroke="#2a3a20" stroke-width="2" fill="none"/>
<path d="M765 360 L768 368 M790 360 L795 370" stroke="#2a3a20" stroke-width="2" fill="none"/>
<path d="M766 261.5 L768.602 258.707 L767.025 255.104 L770.339 253.459 L769.977 249.48 L773.602 249.18 L774.5 245.305 L778 246.388 L780.048 243.084 L783 245.418 L785.952 243.084 L788 246.388 L791.5 245.305 L792.398 249.18 L796.023 249.48 L795.661 253.459 L798.975 255.104 L797.398 258.707 L800 261.5 L802 262.6 L793.2 265.24 L783 264.36 L772.8 265.9 L764 263.04 Z" fill="#34533a" />
<path d="M783 251.6 L783 270 M783 256 L776.88 249.4 M783 258 L788.1 250.5" stroke="#8c8c7c" stroke-width="1.3" fill="none"/>
<g fill="#678a40" >
<ellipse cx="830" cy="258" rx="15.2" ry="12.8"/>
<circle cx="838.2" cy="260.1" r="9.3"/>
<circle cx="833.1" cy="264.7" r="9.3"/>
<circle cx="825.7" cy="264.2" r="9.3"/>
<circle cx="821.5" cy="259.1" r="9.3"/>
<circle cx="823.7" cy="253.1" r="9.3"/>
<circle cx="830.6" cy="250.8" r="9.3"/>
<circle cx="837.1" cy="253.9" r="9.3"/>
</g>
<path d="M827 282 L828.5 267.96 L831.5 267.96 L833 282 Z" fill="#b0482a"/>
<path d="M830 269.04 L824.6 260.4 M830 269.04 L835.4 260.4 M830 270.12 L830 259.4" stroke="#b0482a" stroke-width="2.1" stroke-linecap="round"/>
<path d="M807 312.5 L810.214 309.2 L808.266 304.941 L812.36 302.997 L811.913 298.294 L816.391 297.941 L817.5 293.361 L821.823 294.64 L824.353 290.736 L828 293.494 L831.647 290.736 L834.177 294.64 L838.5 293.361 L839.609 297.941 L844.087 298.294 L843.64 302.997 L847.734 304.941 L845.786 309.2 L849 312.5 L851 313.8 L840.6 316.92 L828 315.88 L815.4 317.7 L805 314.32 Z" fill="#34533a" />
<path d="M828 300.8 L828 330 M828 306 L820.44 298.2 M828 308 L834.3 299.5" stroke="#8c8c7c" stroke-width="1.3" fill="none"/>
<g fill="#678a40" >
<ellipse cx="812" cy="344" rx="13.6" ry="12.8"/>
<circle cx="819.3" cy="346.1" r="9.3"/>
<circle cx="814.8" cy="350.7" r="9.3"/>
<circle cx="808.2" cy="350.2" r="9.3"/>
<circle cx="804.4" cy="345.1" r="9.3"/>
<circle cx="806.4" cy="339.1" r="9.3"/>
<circle cx="812.6" cy="336.8" r="9.3"/>
<circle cx="818.3" cy="339.9" r="9.3"/>
</g>
<path d="M809 376 L810.5 356.76 L813.5 356.76 L815 376 Z" fill="#b0482a"/>
<path d="M812 358.24 L806.6 346.4 M812 358.24 L817.4 346.4 M812 359.72 L812 345.4" stroke="#b0482a" stroke-width="2.1" stroke-linecap="round"/>
<g transform="rotate(0 833.5 334.5)">
<rect x="820" y="327" width="27" height="15" rx="5.25" fill="#b8c24a"/>
<path d="M823.0 339.0 L822.6 330.0 M827.2 339.0 L828.4 330.0 M831.4 339.0 L833.0 330.0 M835.6 339.0 L833.9 330.0 M839.8 339.0 L841.5 330.0 M844.0 339.0 L844.9 330.0" stroke="#5a5a28" stroke-width="0.8" fill="none"/>
</g>
<g transform="rotate(0 835 350.5)">
<rect x="822" y="343" width="26" height="15" rx="5.25" fill="#b8c24a"/>
<path d="M825.0 355.0 L823.5 346.0 M829.0 355.0 L828.8 346.0 M833.0 355.0 L833.5 346.0 M837.0 355.0 L838.6 346.0 M841.0 355.0 L840.5 346.0 M845.0 355.0 L845.3 346.0" stroke="#5a5a28" stroke-width="0.8" fill="none"/>
</g>
<g transform="rotate(0 834 367.5)">
<rect x="820" y="360" width="28" height="15" rx="5.25" fill="#b8c24a"/>
<path d="M823.0 372.0 L824.5 363.0 M826.7 372.0 L827.9 363.0 M830.3 372.0 L832.1 363.0 M834.0 372.0 L833.9 363.0 M837.7 372.0 L838.3 363.0 M841.3 372.0 L840.2 363.0 M845.0 372.0 L845.9 363.0" stroke="#5a5a28" stroke-width="0.8" fill="none"/>
</g>
<path d="M807 402 L810.214 398.446 L808.266 393.86 L812.36 391.766 L811.913 386.702 L816.391 386.321 L817.5 381.389 L821.823 382.766 L824.353 378.562 L828 381.532 L831.647 378.562 L834.177 382.766 L838.5 381.389 L839.609 386.321 L844.087 386.702 L843.64 391.766 L847.734 393.86 L845.786 398.446 L849 402 L851 403.4 L840.6 406.76 L828 405.64 L815.4 407.6 L805 403.96 Z" fill="#34533a" />
<path d="M828 389.4 L828 416 M828 395 L820.44 386.6 M828 397 L834.3 388" stroke="#8c8c7c" stroke-width="1.3" fill="none"/>
<g transform="rotate(0 687 429)">
<rect x="680" y="420" width="14" height="18" rx="4.9" fill="#b8c24a"/>
<path d="M683.0 435.0 L684.3 423.0 M687.0 435.0 L687.6 423.0 M691.0 435.0 L691.9 423.0" stroke="#5a5a28" stroke-width="0.8" fill="none"/>
</g>
<ellipse cx="795" cy="240" rx="7" ry="5.5" fill="#c4c4c4"/><ellipse cx="738" cy="255" rx="6" ry="3" fill="#c4c4c4"/>
<g transform="rotate(0 771 232.5)">
<rect x="761" y="226" width="20" height="13" rx="4.55" fill="#b8c24a"/>
<path d="M764.0 236.0 L762.9 229.0 M767.5 236.0 L769.1 229.0 M771.0 236.0 L772.9 229.0 M774.5 236.0 L776.4 229.0 M778.0 236.0 L778.1 229.0" stroke="#5a5a28" stroke-width="0.8" fill="none"/>
</g>
<path d="M880 228 Q888 218 905 220 L940 219 Q960 216 985 222 Q992 232 989 250 L988 262 Q960 266 930 264 L892 266 Q882 262 879 250 Z" fill="#4a7a35"/>
<path d="M884 230 Q892 222 906 223 L940 222 Q962 219 982 225 Q988 235 986 250 L962 259 L898 261 Q886 256 884 245 Z" fill="#9a9850"/>
<path d="M952 221 Q968 218 982 225 Q986 235 984 245 L966 242 Q955 232 952 221 Z" fill="#a8a862"/>
<path d="M900 234 Q903 224 918 222 Q935 221 950 224 Q966 228 969 238 Q966 246 950 248 Q930 250 912 248 Q900 244 900 234 Z" fill="#5b82c0"/>
<path d="M885 255 Q900 249 915 253 Q935 250 950 251 Q970 246 987 242" stroke="#7a7060" stroke-width="2" fill="none"/>
<ellipse cx="887.5" cy="245" rx="6" ry="4.5" fill="#5a5a58"/>
<ellipse cx="955" cy="248" rx="7" ry="3" fill="#3a3a3a"/>
<ellipse cx="957" cy="254.5" rx="5" ry="3.5" fill="#3a3a3a"/>
<ellipse cx="974" cy="242.5" rx="6" ry="2" fill="#3a3a3a"/>
<ellipse cx="930.5" cy="257" rx="6.5" ry="3" fill="#3a3a3a"/>
<ellipse cx="904" cy="255.5" rx="6" ry="4.5" fill="#9a9aa0"/>
<ellipse cx="896" cy="226" rx="3.5" ry="2.5" fill="#e8e8e8"/>
<ellipse cx="904" cy="231" rx="3" ry="3" fill="#e8e8e8"/>
<path d="M904 327.5 L907.674 323.184 L905.447 317.616 L910.125 315.073 L909.615 308.923 L914.733 308.461 L916 302.472 L920.941 304.145 L923.832 299.039 L928 302.646 L932.168 299.039 L935.059 304.145 L940 302.472 L941.267 308.461 L946.385 308.923 L945.875 315.073 L950.553 317.616 L948.326 323.184 L952 327.5 L954 329.2 L942.4 333.28 L928 331.92 L913.6 334.3 L902 329.88 Z" fill="#34533a" />
<path d="M928 312.2 L928 340 M928 319 L919.36 308.8 M928 321 L935.2 310.5" stroke="#8c8c7c" stroke-width="1.3" fill="none"/>
<g fill="#678a40" >
<ellipse cx="960" cy="312" rx="16" ry="14.4"/>
<circle cx="968.6" cy="314.4" r="10.4"/>
<circle cx="963.3" cy="319.5" r="10.4"/>
<circle cx="955.5" cy="319.0" r="10.4"/>
<circle cx="951.1" cy="313.2" r="10.4"/>
<circle cx="953.4" cy="306.5" r="10.4"/>
<circle cx="960.7" cy="303.9" r="10.4"/>
<circle cx="967.4" cy="307.4" r="10.4"/>
</g>
<path d="M956.5 347 L958.25 326.005 L961.75 326.005 L963.5 347 Z" fill="#b0482a"/>
<path d="M960 327.62 L953.7 314.7 M960 327.62 L966.3 314.7 M960 329.235 L960 313.7" stroke="#b0482a" stroke-width="2.45" stroke-linecap="round"/>
<g transform="rotate(0 943 350)">
<rect x="930" y="340" width="26" height="20" rx="7" fill="#b8c24a"/>
<path d="M933.0 357.0 L934.2 343.0 M937.0 357.0 L936.3 343.0 M941.0 357.0 L942.6 343.0 M945.0 357.0 L946.4 343.0 M949.0 357.0 L948.4 343.0 M953.0 357.0 L951.3 343.0" stroke="#5a5a28" stroke-width="0.8" fill="none"/>
</g>
<g transform="rotate(0 968 351.5)">
<rect x="955" y="342" width="26" height="19" rx="6.65" fill="#b8c24a"/>
<path d="M958.0 358.0 L957.8 345.0 M962.0 358.0 L962.2 345.0 M966.0 358.0 L967.1 345.0 M970.0 358.0 L969.9 345.0 M974.0 358.0 L972.1 345.0 M978.0 358.0 L979.2 345.0" stroke="#5a5a28" stroke-width="0.8" fill="none"/>
</g>
<ellipse cx="924" cy="380" rx="18" ry="11" fill="#9abf3a"/><ellipse cx="926" cy="381" rx="13" ry="8" fill="#3f9a50"/><rect x="905" y="366" width="12" height="9" fill="#8a3a2a"/>
<ellipse cx="952" cy="378" rx="5" ry="4" fill="#c8c8d0"/>
<ellipse cx="960" cy="372" rx="5" ry="4" fill="#a8a0c0"/>
<ellipse cx="968" cy="376" rx="5" ry="4" fill="#d8c8d0"/>
<ellipse cx="976" cy="372" rx="5" ry="4" fill="#b0a8c8"/>
<ellipse cx="984" cy="378" rx="5" ry="4" fill="#c0b8c8"/>
<ellipse cx="958" cy="384" rx="5" ry="4" fill="#a090b0"/>
<ellipse cx="970" cy="384" rx="5" ry="4" fill="#c8c0d0"/>
<ellipse cx="980" cy="385" rx="5" ry="4" fill="#a89ab8"/>
<ellipse cx="964" cy="390" rx="5" ry="4" fill="#9a90b0"/>
<path d="M885 412.5 V417 H991.6 V412.5 M936 417 V413" stroke="#2a3020" stroke-width="1.4" fill="none"/>
<g font-size="10" font-family="Liberation Sans" fill="#1a1a1a"><text x="882" y="411.5">0</text><text x="931.5" y="411">10</text><text x="984" y="410.5">20</text></g>
<rect x="978" y="439.5" width="17.5" height="16.5" fill="#1f7d34"/><rect x="979.5" y="441" width="14.5" height="13.5" fill="none" stroke="#e0efe0" stroke-width="0.7"/><path d="M981.5 447.75 H990 M987 444 L991 447.75 L987 451.5" stroke="#fff" stroke-width="2.4" fill="none" stroke-linecap="round" stroke-linejoin="round"/>
<ellipse cx="908" cy="480" rx="13" ry="6" fill="#3e6a35"/><circle cx="891" cy="483" r="9" fill="#a01818"/><ellipse cx="957" cy="481" rx="9" ry="6" fill="#5e7e3a"/>
<path d="M809 480 L811 475 L838 475 L838 480 Z" fill="#2a2420"/><path d="M811 476 H836" stroke="#7a5a3a" stroke-width="1"/>
<path d="M918 466 L912 450 M915 458 L908 452 M918 466 L926 450 M922 458 L930 452" stroke="#2a2a1a" stroke-width="1" fill="none"/><path d="M925 466 q6 -6 4 -12 M928 462 q4 -2 3 -7" stroke="#2a4a2a" stroke-width="1.5" fill="none"/>
<circle cx="457" cy="306" r="10" fill="#8e0f12"/>
<text x="457.3" y="310.14" font-size="11.5" font-weight="bold" fill="#e4e4e4" stroke="#000" stroke-width="3" paint-order="stroke" stroke-linejoin="round" text-anchor="middle" font-family="Liberation Sans" letter-spacing="-0.6">9</text>
<circle cx="620" cy="262" r="10" fill="#8e0f12"/>
<text x="620.3" y="266.14" font-size="11.5" font-weight="bold" fill="#e4e4e4" stroke="#000" stroke-width="3" paint-order="stroke" stroke-linejoin="round" text-anchor="middle" font-family="Liberation Sans" letter-spacing="-0.6">10</text>
<circle cx="717.5" cy="279" r="10" fill="#8e0f12"/>
<text x="717.8" y="283.14" font-size="11.5" font-weight="bold" fill="#e4e4e4" stroke="#000" stroke-width="3" paint-order="stroke" stroke-linejoin="round" text-anchor="middle" font-family="Liberation Sans" letter-spacing="-0.6">23</text>
<circle cx="778.5" cy="336" r="10" fill="#8e0f12"/>
<text x="778.8" y="340.14" font-size="11.5" font-weight="bold" fill="#e4e4e4" stroke="#000" stroke-width="3" paint-order="stroke" stroke-linejoin="round" text-anchor="middle" font-family="Liberation Sans" letter-spacing="-0.6">24</text>
<circle cx="637" cy="332" r="10" fill="#8e0f12"/>
<text x="637.3" y="336.14" font-size="11.5" font-weight="bold" fill="#e4e4e4" stroke="#000" stroke-width="3" paint-order="stroke" stroke-linejoin="round" text-anchor="middle" font-family="Liberation Sans" letter-spacing="-0.6">8</text>
<circle cx="643" cy="395" r="10" fill="#8e0f12"/>
<text x="643.3" y="399.14" font-size="11.5" font-weight="bold" fill="#e4e4e4" stroke="#000" stroke-width="3" paint-order="stroke" stroke-linejoin="round" text-anchor="middle" font-family="Liberation Sans" letter-spacing="-0.6">7</text>
<circle cx="560" cy="438" r="10" fill="#8e0f12"/>
<text x="560.3" y="442.14" font-size="11.5" font-weight="bold" fill="#e4e4e4" stroke="#000" stroke-width="3" paint-order="stroke" stroke-linejoin="round" text-anchor="middle" font-family="Liberation Sans" letter-spacing="-0.6">6</text>
<circle cx="510" cy="479" r="10" fill="#8e0f12"/>
<text x="510.3" y="483.14" font-size="11.5" font-weight="bold" fill="#e4e4e4" stroke="#000" stroke-width="3" paint-order="stroke" stroke-linejoin="round" text-anchor="middle" font-family="Liberation Sans" letter-spacing="-0.6">5</text>
<circle cx="879" cy="262.5" r="10" fill="#8e0f12"/>
<text x="879.3" y="266.64" font-size="11.5" font-weight="bold" fill="#e4e4e4" stroke="#000" stroke-width="3" paint-order="stroke" stroke-linejoin="round" text-anchor="middle" font-family="Liberation Sans" letter-spacing="-0.6">22</text>
<rect x="469" y="297.5" width="17" height="17.5" fill="#fff200"/><circle cx="477.5" cy="306.25" r="7" fill="none" stroke="#000" stroke-width="1.6"/><circle cx="477.5" cy="302.5" r="1.3"/><rect x="476.4" y="304.5" width="2.2" height="6"/>
<rect x="489" y="297.5" width="17" height="16.5" fill="#fff200"/><text x="497.5" y="309.5" font-size="9" font-weight="bold" font-family="Liberation Sans" text-anchor="middle" letter-spacing="-0.6">WC</text>
<rect x="507.5" y="296" width="17.5" height="18" fill="#d8231a"/><rect x="514" y="298.5" width="4.5" height="13" rx="1" fill="#fff"/><rect x="510" y="302.5" width="12.5" height="4.5" rx="1" fill="#fff"/>
<rect x="552.5" y="282.5" width="16.5" height="16.5" fill="#fff200"/><g transform="translate(552.5 282.5) scale(0.485)"><circle cx="13" cy="6" r="2.3"/><path d="M12 9 L12 21 L21 21 L25 28" stroke="#000" stroke-width="2.4" fill="none"/><path d="M12 14 L19 14" stroke="#000" stroke-width="2"/><path d="M10 14 A8.5 8.5 0 1 0 22 25" stroke="#000" stroke-width="2.2" fill="none"/></g>
<rect x="530.8" y="-2" width="89" height="12.5" fill="#fff"/>
<text x="533" y="6.8" font-size="11" font-weight="bold" fill="#111" stroke="#111" stroke-width="0.3" font-family="Liberation Sans" textLength="81.5" lengthAdjust="spacingAndGlyphs">Kreativwerkstatt</text>
<rect x="666.9" y="21.1" width="42.2" height="16.8" fill="#fff"/>
<text x="668.8" y="33.9" font-size="10.6" font-weight="bold" fill="#111" stroke="#111" stroke-width="0.3" font-family="Liberation Sans" textLength="34.9" lengthAdjust="spacingAndGlyphs">Graffiti</text>
<rect x="782.3" y="42.9" width="59.1" height="18.9" fill="#fff"/>
<text x="784.2" y="56.8" font-size="11.2" font-weight="bold" fill="#111" stroke="#111" stroke-width="0.3" font-family="Liberation Sans" textLength="53.3" lengthAdjust="spacingAndGlyphs">Tanzstudio</text>
<rect x="894" y="-2" width="69.8" height="15.6" fill="#fff"/>
<text x="896.4" y="6.2" font-size="11" font-weight="bold" fill="#111" stroke="#111" stroke-width="0.3" font-family="Liberation Sans" textLength="60.8" lengthAdjust="spacingAndGlyphs">Ruhebereich</text>
<rect x="423.9" y="202.2" width="70.3" height="16.3" fill="#fff"/>
<text x="426" y="215.2" font-size="11.3" font-weight="bold" fill="#111" stroke="#111" stroke-width="0.3" font-family="Liberation Sans" textLength="63" lengthAdjust="spacingAndGlyphs">Filzwerkstatt</text>
<rect x="893" y="165.5" width="107" height="52" fill="#fff"/>
<text x="896" y="186.3" font-size="17" font-weight="bold" fill="#111" stroke="#111" stroke-width="0.3" font-family="Liberation Sans" textLength="101.5" lengthAdjust="spacingAndGlyphs">Naturschutz</text>
<text x="896" y="210" font-size="17" font-weight="bold" fill="#111" stroke="#111" stroke-width="0.3" font-family="Liberation Sans" textLength="52" lengthAdjust="spacingAndGlyphs">gebiet</text>
<rect x="380.75" y="229.5" width="72.15" height="53" fill="#fff"/>
<text x="383.25" y="250.4" font-size="17.6" font-weight="bold" fill="#111" stroke="#111" stroke-width="0.3" font-family="Liberation Sans" textLength="64" lengthAdjust="spacingAndGlyphs">Häuser-</text>
<text x="383.25" y="274.1" font-size="17.6" font-weight="bold" fill="#111" stroke="#111" stroke-width="0.3" font-family="Liberation Sans" textLength="52.75" lengthAdjust="spacingAndGlyphs">viertel</text>
<rect x="500" y="207.8" width="57.8" height="30.9" fill="#fff"/>
<text x="502" y="220.4" font-size="11" font-weight="bold" fill="#111" stroke="#111" stroke-width="0.3" font-family="Liberation Sans" textLength="50.6" lengthAdjust="spacingAndGlyphs">Kaufhaus/</text>
<text x="502" y="234.3" font-size="11" font-weight="bold" fill="#111" stroke="#111" stroke-width="0.3" font-family="Liberation Sans" textLength="50.4" lengthAdjust="spacingAndGlyphs">Bibliothek</text>
<rect x="510.2" y="256.3" width="36.6" height="16.5" fill="#fff"/>
<text x="512.5" y="269" font-size="10.2" font-weight="bold" fill="#111" stroke="#111" stroke-width="0.3" font-family="Liberation Sans" textLength="27.7" lengthAdjust="spacingAndGlyphs">Radio</text>
<rect x="468.3" y="275.1" width="87.9" height="16.5" fill="#fff"/>
<text x="470.2" y="287.8" font-size="10.2" font-weight="bold" fill="#111" stroke="#111" stroke-width="0.3" font-family="Liberation Sans" textLength="79.4" lengthAdjust="spacingAndGlyphs">Content Creator</text>
<rect x="445.8" y="324.2" width="63.4" height="16.9" fill="#fff"/>
<text x="447.9" y="336.7" font-size="10.2" font-weight="bold" fill="#111" stroke="#111" stroke-width="0.3" font-family="Liberation Sans" textLength="52.9" lengthAdjust="spacingAndGlyphs">Restaurant</text>
<rect x="477.8" y="357" width="53.2" height="19.3" fill="#fff"/>
<text x="480" y="370.9" font-size="10.5" font-weight="bold" fill="#111" stroke="#111" stroke-width="0.3" font-family="Liberation Sans" textLength="46.1" lengthAdjust="spacingAndGlyphs">Ausweich</text>
<rect x="501.1" y="448" width="102.7" height="14.2" fill="#fff"/>
<text x="503.1" y="460.3" font-size="10.5" font-weight="bold" fill="#111" stroke="#111" stroke-width="0.3" font-family="Liberation Sans" textLength="96.9" lengthAdjust="spacingAndGlyphs">Gründungszentrum</text>
<rect x="604.1" y="229.3" width="156.8" height="24.7" fill="#fff"/>
<text x="606.6" y="249.9" font-size="16.7" font-weight="bold" fill="#111" stroke="#111" stroke-width="0.3" font-family="Liberation Sans" textLength="149.4" lengthAdjust="spacingAndGlyphs">Regierungsviertel</text>
<rect x="597.1" y="270.1" width="49.1" height="21.1" fill="#fff"/>
<text x="599.3" y="283.2" font-size="10.2" font-weight="bold" fill="#111" stroke="#111" stroke-width="0.3" font-family="Liberation Sans" textLength="39.5" lengthAdjust="spacingAndGlyphs">Rathaus</text>
<rect x="662" y="273" width="50" height="13" fill="#fff"/>
<text x="664.1" y="283.5" font-size="8.4" font-weight="bold" fill="#111" stroke="#111" stroke-width="0.3" font-family="Liberation Sans" textLength="43.6" lengthAdjust="spacingAndGlyphs">Handyzone</text>
<rect x="722.6" y="284.6" width="82.9" height="15.4" fill="#fff"/>
<text x="724.8" y="297.4" font-size="11" font-weight="bold" fill="#111" stroke="#111" stroke-width="0.3" font-family="Liberation Sans" textLength="73" lengthAdjust="spacingAndGlyphs">Inklusionsbüro</text>
<rect x="593.2" y="308" width="55.6" height="14.8" fill="#fff"/>
<text x="595.2" y="320.3" font-size="10" font-weight="bold" fill="#111" stroke="#111" stroke-width="0.3" font-family="Liberation Sans" textLength="48" lengthAdjust="spacingAndGlyphs">Jobcenter</text>
<rect x="727.7" y="342.7" width="75.2" height="19.6" fill="#fff"/>
<text x="730.3" y="355.5" font-size="10.2" font-weight="bold" fill="#111" stroke="#111" stroke-width="0.3" font-family="Liberation Sans" textLength="64.9" lengthAdjust="spacingAndGlyphs">Fitnesscenter</text>
<rect x="697.1" y="415.2" width="27.6" height="13.6" fill="#fff"/>
<text x="698.9" y="427.5" font-size="9.8" font-weight="bold" fill="#111" stroke="#111" stroke-width="0.3" font-family="Liberation Sans" textLength="24.1" lengthAdjust="spacingAndGlyphs">Bank</text>
<rect x="899" y="263" width="98.5" height="31.5" fill="#fff"/>
<text x="901.5" y="276.6" font-size="10.1" font-weight="bold" fill="#111" stroke="#111" stroke-width="0.3" font-family="Liberation Sans" textLength="77.3" lengthAdjust="spacingAndGlyphs">Bund für Natur-</text>
<text x="901.5" y="290.7" font-size="10.1" font-weight="bold" fill="#111" stroke="#111" stroke-width="0.3" font-family="Liberation Sans" textLength="92.3" lengthAdjust="spacingAndGlyphs">und Umweltschutz</text>
<rect x="896.4" y="342.1" width="35.6" height="14.9" fill="#fff"/>
<text x="898" y="354.5" font-size="10.2" font-weight="bold" fill="#111" stroke="#111" stroke-width="0.3" font-family="Liberation Sans" textLength="30.7" lengthAdjust="spacingAndGlyphs">Zirkus</text>
<rect x="816" y="456" width="107.2" height="18.8" fill="#fff"/>
<text x="817.7" y="470.5" font-size="10.3" font-weight="bold" fill="#111" stroke="#111" stroke-width="0.3" font-family="Liberation Sans" textLength="100.9" lengthAdjust="spacingAndGlyphs">Erste Hilfe/Sanitäter</text>
<rect x="625.7" y="460.2" width="138.3" height="21.8" fill="#fff"/>
<text x="628.25" y="479.3" font-size="16.7" font-weight="bold" fill="#111" stroke="#111" stroke-width="0.3" font-family="Liberation Sans" textLength="127.5" lengthAdjust="spacingAndGlyphs">Bildungsviertel</text>
</svg>

</div>
</body></html>
